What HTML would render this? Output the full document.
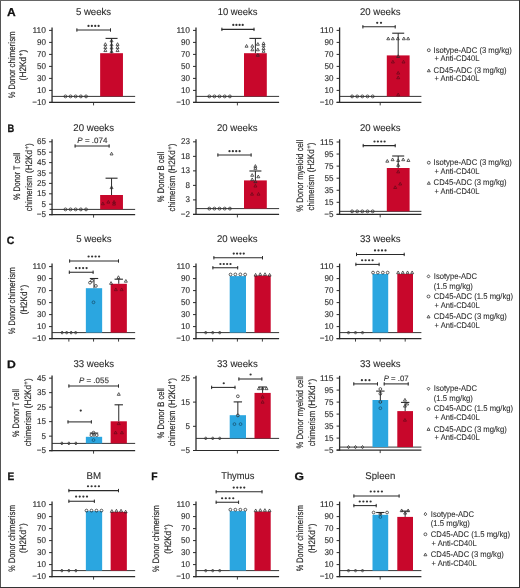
<!DOCTYPE html>
<html><head><meta charset="utf-8"><style>
html,body{margin:0;padding:0;background:#fff;width:520px;height:588px;overflow:hidden}
svg{display:block;font-family:"Liberation Sans",sans-serif;will-change:transform}
</style></head><body>
<svg width="520" height="588" viewBox="0 0 520 588" font-family="Liberation Sans, sans-serif" text-rendering="geometricPrecision">
<rect width="520" height="588" fill="#fff"/>
<text transform="translate(6.90 16.45) scale(1.04 1)" font-size="11.6" font-weight="bold" fill="#111" stroke="#111" stroke-width="0.25">A</text>
<text transform="translate(7.47 131.80) scale(0.86 1)" font-size="10.9" font-weight="bold" fill="#111" stroke="#111" stroke-width="0.25">B</text>
<text transform="translate(6.77 243.70) scale(0.97 1)" font-size="10.9" font-weight="bold" fill="#111" stroke="#111" stroke-width="0.25">C</text>
<text transform="translate(6.98 367.70) scale(1.12 1)" font-size="10.9" font-weight="bold" fill="#111" stroke="#111" stroke-width="0.25">D</text>
<text transform="translate(7.42 479.70) scale(0.93 1)" font-size="10.9" font-weight="bold" fill="#111" stroke="#111" stroke-width="0.25">E</text>
<text transform="translate(151.21 479.70) scale(0.95 1)" font-size="10.9" font-weight="bold" fill="#111" stroke="#111" stroke-width="0.25">F</text>
<text transform="translate(294.60 479.90) scale(1.11 1)" font-size="10.9" font-weight="bold" fill="#111" stroke="#111" stroke-width="0.25">G</text>
<line x1="52.05" y1="27.40" x2="52.05" y2="103.00" stroke="#2a2a2a" stroke-width="1.3"/>
<line x1="49.05" y1="30.40" x2="52.05" y2="30.40" stroke="#2a2a2a" stroke-width="1.0"/>
<text x="45.95" y="33.00" font-size="8.4" text-anchor="end" textLength="13.45" lengthAdjust="spacingAndGlyphs" fill="#2a2a2a" stroke="#2a2a2a" stroke-width="0.12">110</text>
<line x1="49.05" y1="42.40" x2="52.05" y2="42.40" stroke="#2a2a2a" stroke-width="1.0"/>
<text x="45.95" y="45.00" font-size="8.4" text-anchor="end" textLength="8.97" lengthAdjust="spacingAndGlyphs" fill="#2a2a2a" stroke="#2a2a2a" stroke-width="0.12">90</text>
<line x1="49.05" y1="54.40" x2="52.05" y2="54.40" stroke="#2a2a2a" stroke-width="1.0"/>
<text x="45.95" y="57.00" font-size="8.4" text-anchor="end" textLength="8.97" lengthAdjust="spacingAndGlyphs" fill="#2a2a2a" stroke="#2a2a2a" stroke-width="0.12">70</text>
<line x1="49.05" y1="66.40" x2="52.05" y2="66.40" stroke="#2a2a2a" stroke-width="1.0"/>
<text x="45.95" y="69.00" font-size="8.4" text-anchor="end" textLength="8.97" lengthAdjust="spacingAndGlyphs" fill="#2a2a2a" stroke="#2a2a2a" stroke-width="0.12">50</text>
<line x1="49.05" y1="78.40" x2="52.05" y2="78.40" stroke="#2a2a2a" stroke-width="1.0"/>
<text x="45.95" y="81.00" font-size="8.4" text-anchor="end" textLength="8.97" lengthAdjust="spacingAndGlyphs" fill="#2a2a2a" stroke="#2a2a2a" stroke-width="0.12">30</text>
<line x1="49.05" y1="90.40" x2="52.05" y2="90.40" stroke="#2a2a2a" stroke-width="1.0"/>
<text x="45.95" y="93.00" font-size="8.4" text-anchor="end" textLength="8.97" lengthAdjust="spacingAndGlyphs" fill="#2a2a2a" stroke="#2a2a2a" stroke-width="0.12">10</text>
<line x1="49.05" y1="102.40" x2="52.05" y2="102.40" stroke="#2a2a2a" stroke-width="1.0"/>
<text x="45.95" y="105.00" font-size="8.4" text-anchor="end" textLength="13.68" lengthAdjust="spacingAndGlyphs" fill="#2a2a2a" stroke="#2a2a2a" stroke-width="0.12">&#8722;10</text>
<line x1="49.05" y1="102.40" x2="135.15" y2="102.40" stroke="#2a2a2a" stroke-width="1.2"/>
<line x1="93.55" y1="102.40" x2="93.55" y2="105.40" stroke="#2a2a2a" stroke-width="0.9"/>
<line x1="52.05" y1="96.40" x2="135.15" y2="96.40" stroke="#2a2a2a" stroke-width="0.95"/>
<circle cx="65.45" cy="96.40" r="1.45" fill="none" stroke="#2a2a2a" stroke-width="0.75"/>
<circle cx="70.55" cy="96.40" r="1.45" fill="none" stroke="#2a2a2a" stroke-width="0.75"/>
<circle cx="75.65" cy="96.40" r="1.45" fill="none" stroke="#2a2a2a" stroke-width="0.75"/>
<circle cx="80.85" cy="96.40" r="1.45" fill="none" stroke="#2a2a2a" stroke-width="0.75"/>
<circle cx="86.05" cy="96.40" r="1.45" fill="none" stroke="#2a2a2a" stroke-width="0.75"/>
<rect x="100.15" y="53.20" width="22.80" height="43.20" fill="#c8072b"/>
<line x1="111.55" y1="38.40" x2="111.55" y2="53.20" stroke="#2a2a2a" stroke-width="1.0"/>
<line x1="105.55" y1="38.40" x2="117.55" y2="38.40" stroke="#2a2a2a" stroke-width="1.1"/>
<path d="M105.35 42.70L106.85 45.40L103.85 45.40Z" fill="none" stroke="#2a2a2a" stroke-width="0.75"/>
<path d="M105.35 45.76L106.85 48.46L103.85 48.46Z" fill="none" stroke="#2a2a2a" stroke-width="0.75"/>
<path d="M105.35 48.88L106.85 51.58L103.85 51.58Z" fill="none" stroke="#2a2a2a" stroke-width="0.75"/>
<path d="M111.55 39.16L113.05 41.86L110.05 41.86Z" fill="none" stroke="#2a2a2a" stroke-width="0.75"/>
<path d="M111.55 43.18L113.05 45.88L110.05 45.88Z" fill="none" stroke="#2a2a2a" stroke-width="0.75"/>
<path d="M111.55 46.36L113.05 49.06L110.05 49.06Z" fill="none" stroke="#2a2a2a" stroke-width="0.75"/>
<path d="M111.55 49.90L113.05 52.60L110.05 52.60Z" fill="none" stroke="#2a2a2a" stroke-width="0.75"/>
<path d="M117.55 42.70L119.05 45.40L116.05 45.40Z" fill="none" stroke="#2a2a2a" stroke-width="0.75"/>
<path d="M117.55 45.76L119.05 48.46L116.05 48.46Z" fill="none" stroke="#2a2a2a" stroke-width="0.75"/>
<path d="M117.55 48.88L119.05 51.58L116.05 51.58Z" fill="none" stroke="#2a2a2a" stroke-width="0.75"/>
<line x1="76.50" y1="30.00" x2="110.90" y2="30.00" stroke="#2a2a2a" stroke-width="1.05"/>
<line x1="76.90" y1="28.30" x2="76.90" y2="31.70" stroke="#2a2a2a" stroke-width="1.0"/>
<line x1="110.50" y1="28.30" x2="110.50" y2="31.70" stroke="#2a2a2a" stroke-width="1.0"/>
<circle cx="88.50" cy="25.90" r="1.12" fill="#333"/>
<circle cx="91.87" cy="25.90" r="1.12" fill="#333"/>
<circle cx="95.23" cy="25.90" r="1.12" fill="#333"/>
<circle cx="98.60" cy="25.90" r="1.12" fill="#333"/>
<text x="93.55" y="14.80" font-size="9.8" text-anchor="middle" textLength="35.30" lengthAdjust="spacingAndGlyphs" fill="#2a2a2a" stroke="#2a2a2a" stroke-width="0.1">5 weeks</text>
<line x1="196.00" y1="27.40" x2="196.00" y2="103.00" stroke="#2a2a2a" stroke-width="1.3"/>
<line x1="193.00" y1="30.40" x2="196.00" y2="30.40" stroke="#2a2a2a" stroke-width="1.0"/>
<text x="189.90" y="33.00" font-size="8.4" text-anchor="end" textLength="13.45" lengthAdjust="spacingAndGlyphs" fill="#2a2a2a" stroke="#2a2a2a" stroke-width="0.12">110</text>
<line x1="193.00" y1="42.40" x2="196.00" y2="42.40" stroke="#2a2a2a" stroke-width="1.0"/>
<text x="189.90" y="45.00" font-size="8.4" text-anchor="end" textLength="8.97" lengthAdjust="spacingAndGlyphs" fill="#2a2a2a" stroke="#2a2a2a" stroke-width="0.12">90</text>
<line x1="193.00" y1="54.40" x2="196.00" y2="54.40" stroke="#2a2a2a" stroke-width="1.0"/>
<text x="189.90" y="57.00" font-size="8.4" text-anchor="end" textLength="8.97" lengthAdjust="spacingAndGlyphs" fill="#2a2a2a" stroke="#2a2a2a" stroke-width="0.12">70</text>
<line x1="193.00" y1="66.40" x2="196.00" y2="66.40" stroke="#2a2a2a" stroke-width="1.0"/>
<text x="189.90" y="69.00" font-size="8.4" text-anchor="end" textLength="8.97" lengthAdjust="spacingAndGlyphs" fill="#2a2a2a" stroke="#2a2a2a" stroke-width="0.12">50</text>
<line x1="193.00" y1="78.40" x2="196.00" y2="78.40" stroke="#2a2a2a" stroke-width="1.0"/>
<text x="189.90" y="81.00" font-size="8.4" text-anchor="end" textLength="8.97" lengthAdjust="spacingAndGlyphs" fill="#2a2a2a" stroke="#2a2a2a" stroke-width="0.12">30</text>
<line x1="193.00" y1="90.40" x2="196.00" y2="90.40" stroke="#2a2a2a" stroke-width="1.0"/>
<text x="189.90" y="93.00" font-size="8.4" text-anchor="end" textLength="8.97" lengthAdjust="spacingAndGlyphs" fill="#2a2a2a" stroke="#2a2a2a" stroke-width="0.12">10</text>
<line x1="193.00" y1="102.40" x2="196.00" y2="102.40" stroke="#2a2a2a" stroke-width="1.0"/>
<text x="189.90" y="105.00" font-size="8.4" text-anchor="end" textLength="13.68" lengthAdjust="spacingAndGlyphs" fill="#2a2a2a" stroke="#2a2a2a" stroke-width="0.12">&#8722;10</text>
<line x1="193.00" y1="102.40" x2="279.10" y2="102.40" stroke="#2a2a2a" stroke-width="1.2"/>
<line x1="237.40" y1="102.40" x2="237.40" y2="105.40" stroke="#2a2a2a" stroke-width="0.9"/>
<line x1="196.00" y1="96.40" x2="279.10" y2="96.40" stroke="#2a2a2a" stroke-width="0.95"/>
<circle cx="209.30" cy="96.40" r="1.45" fill="none" stroke="#2a2a2a" stroke-width="0.75"/>
<circle cx="214.40" cy="96.40" r="1.45" fill="none" stroke="#2a2a2a" stroke-width="0.75"/>
<circle cx="219.50" cy="96.40" r="1.45" fill="none" stroke="#2a2a2a" stroke-width="0.75"/>
<circle cx="224.70" cy="96.40" r="1.45" fill="none" stroke="#2a2a2a" stroke-width="0.75"/>
<circle cx="229.90" cy="96.40" r="1.45" fill="none" stroke="#2a2a2a" stroke-width="0.75"/>
<rect x="244.00" y="53.20" width="22.80" height="43.20" fill="#c8072b"/>
<line x1="255.40" y1="38.40" x2="255.40" y2="53.20" stroke="#2a2a2a" stroke-width="1.0"/>
<line x1="249.40" y1="38.40" x2="261.40" y2="38.40" stroke="#2a2a2a" stroke-width="1.1"/>
<path d="M246.55 44.50L248.05 47.20L245.05 47.20Z" fill="none" stroke="#2a2a2a" stroke-width="0.75"/>
<path d="M252.35 44.50L253.85 47.20L250.85 47.20Z" fill="none" stroke="#2a2a2a" stroke-width="0.75"/>
<path d="M252.35 48.10L253.85 50.80L250.85 50.80Z" fill="none" stroke="#2a2a2a" stroke-width="0.75"/>
<path d="M257.85 42.58L259.35 45.28L256.35 45.28Z" fill="none" stroke="#2a2a2a" stroke-width="0.75"/>
<path d="M257.85 48.10L259.35 50.80L256.35 50.80Z" fill="none" stroke="#2a2a2a" stroke-width="0.75"/>
<path d="M263.55 41.86L265.05 44.56L262.05 44.56Z" fill="none" stroke="#2a2a2a" stroke-width="0.75"/>
<path d="M263.55 44.08L265.05 46.78L262.05 46.78Z" fill="none" stroke="#2a2a2a" stroke-width="0.75"/>
<path d="M263.55 46.96L265.05 49.66L262.05 49.66Z" fill="none" stroke="#2a2a2a" stroke-width="0.75"/>
<path d="M263.55 49.60L265.05 52.30L262.05 52.30Z" fill="none" stroke="#2a2a2a" stroke-width="0.75"/>
<path d="M257.85 53.56L259.35 56.26L256.35 56.26Z" fill="none" stroke="#2a2a2a" stroke-width="0.75"/>
<line x1="221.50" y1="29.35" x2="254.40" y2="29.35" stroke="#2a2a2a" stroke-width="1.05"/>
<line x1="221.90" y1="27.65" x2="221.90" y2="31.05" stroke="#2a2a2a" stroke-width="1.0"/>
<line x1="254.00" y1="27.65" x2="254.00" y2="31.05" stroke="#2a2a2a" stroke-width="1.0"/>
<circle cx="233.30" cy="24.90" r="1.12" fill="#333"/>
<circle cx="236.43" cy="24.90" r="1.12" fill="#333"/>
<circle cx="239.57" cy="24.90" r="1.12" fill="#333"/>
<circle cx="242.70" cy="24.90" r="1.12" fill="#333"/>
<text x="237.60" y="14.80" font-size="9.8" text-anchor="middle" textLength="39.80" lengthAdjust="spacingAndGlyphs" fill="#2a2a2a" stroke="#2a2a2a" stroke-width="0.1">10 weeks</text>
<line x1="339.60" y1="27.40" x2="339.60" y2="103.00" stroke="#2a2a2a" stroke-width="1.3"/>
<line x1="336.60" y1="30.40" x2="339.60" y2="30.40" stroke="#2a2a2a" stroke-width="1.0"/>
<text x="333.50" y="33.00" font-size="8.4" text-anchor="end" textLength="13.45" lengthAdjust="spacingAndGlyphs" fill="#2a2a2a" stroke="#2a2a2a" stroke-width="0.12">110</text>
<line x1="336.60" y1="42.40" x2="339.60" y2="42.40" stroke="#2a2a2a" stroke-width="1.0"/>
<text x="333.50" y="45.00" font-size="8.4" text-anchor="end" textLength="8.97" lengthAdjust="spacingAndGlyphs" fill="#2a2a2a" stroke="#2a2a2a" stroke-width="0.12">90</text>
<line x1="336.60" y1="54.40" x2="339.60" y2="54.40" stroke="#2a2a2a" stroke-width="1.0"/>
<text x="333.50" y="57.00" font-size="8.4" text-anchor="end" textLength="8.97" lengthAdjust="spacingAndGlyphs" fill="#2a2a2a" stroke="#2a2a2a" stroke-width="0.12">70</text>
<line x1="336.60" y1="66.40" x2="339.60" y2="66.40" stroke="#2a2a2a" stroke-width="1.0"/>
<text x="333.50" y="69.00" font-size="8.4" text-anchor="end" textLength="8.97" lengthAdjust="spacingAndGlyphs" fill="#2a2a2a" stroke="#2a2a2a" stroke-width="0.12">50</text>
<line x1="336.60" y1="78.40" x2="339.60" y2="78.40" stroke="#2a2a2a" stroke-width="1.0"/>
<text x="333.50" y="81.00" font-size="8.4" text-anchor="end" textLength="8.97" lengthAdjust="spacingAndGlyphs" fill="#2a2a2a" stroke="#2a2a2a" stroke-width="0.12">30</text>
<line x1="336.60" y1="90.40" x2="339.60" y2="90.40" stroke="#2a2a2a" stroke-width="1.0"/>
<text x="333.50" y="93.00" font-size="8.4" text-anchor="end" textLength="8.97" lengthAdjust="spacingAndGlyphs" fill="#2a2a2a" stroke="#2a2a2a" stroke-width="0.12">10</text>
<line x1="336.60" y1="102.40" x2="339.60" y2="102.40" stroke="#2a2a2a" stroke-width="1.0"/>
<text x="333.50" y="105.00" font-size="8.4" text-anchor="end" textLength="13.68" lengthAdjust="spacingAndGlyphs" fill="#2a2a2a" stroke="#2a2a2a" stroke-width="0.12">&#8722;10</text>
<line x1="336.60" y1="102.40" x2="421.40" y2="102.40" stroke="#2a2a2a" stroke-width="1.2"/>
<line x1="380.20" y1="102.40" x2="380.20" y2="105.40" stroke="#2a2a2a" stroke-width="0.9"/>
<line x1="339.60" y1="96.40" x2="421.40" y2="96.40" stroke="#2a2a2a" stroke-width="0.95"/>
<circle cx="352.10" cy="96.40" r="1.45" fill="none" stroke="#2a2a2a" stroke-width="0.75"/>
<circle cx="357.20" cy="96.40" r="1.45" fill="none" stroke="#2a2a2a" stroke-width="0.75"/>
<circle cx="362.30" cy="96.40" r="1.45" fill="none" stroke="#2a2a2a" stroke-width="0.75"/>
<circle cx="367.50" cy="96.40" r="1.45" fill="none" stroke="#2a2a2a" stroke-width="0.75"/>
<circle cx="372.70" cy="96.40" r="1.45" fill="none" stroke="#2a2a2a" stroke-width="0.75"/>
<rect x="386.80" y="55.40" width="22.80" height="41.00" fill="#c8072b"/>
<line x1="398.20" y1="33.20" x2="398.20" y2="55.40" stroke="#2a2a2a" stroke-width="1.0"/>
<line x1="392.20" y1="33.20" x2="404.20" y2="33.20" stroke="#2a2a2a" stroke-width="1.1"/>
<path d="M388.25 37.06L389.75 39.76L386.75 39.76Z" fill="none" stroke="#2a2a2a" stroke-width="0.75"/>
<path d="M392.85 37.06L394.35 39.76L391.35 39.76Z" fill="none" stroke="#2a2a2a" stroke-width="0.75"/>
<path d="M397.85 37.06L399.35 39.76L396.35 39.76Z" fill="none" stroke="#2a2a2a" stroke-width="0.75"/>
<path d="M403.85 37.06L405.35 39.76L402.35 39.76Z" fill="none" stroke="#2a2a2a" stroke-width="0.75"/>
<path d="M408.15 37.06L409.65 39.76L406.65 39.76Z" fill="none" stroke="#2a2a2a" stroke-width="0.75"/>
<path d="M398.20 54.76L399.70 57.46L396.70 57.46Z" fill="none" stroke="#2a2a2a" stroke-width="0.75"/>
<path d="M392.90 60.28L394.40 62.98L391.40 62.98Z" fill="none" stroke="#6a0a1a" stroke-width="0.75"/>
<path d="M403.50 60.28L405.00 62.98L402.00 62.98Z" fill="none" stroke="#6a0a1a" stroke-width="0.75"/>
<path d="M398.20 71.38L399.70 74.08L396.70 74.08Z" fill="none" stroke="#6a0a1a" stroke-width="0.75"/>
<path d="M398.20 76.06L399.70 78.76L396.70 78.76Z" fill="none" stroke="#6a0a1a" stroke-width="0.75"/>
<path d="M398.20 93.10L399.70 95.80L396.70 95.80Z" fill="none" stroke="#6a0a1a" stroke-width="0.75"/>
<line x1="362.50" y1="26.80" x2="395.60" y2="26.80" stroke="#2a2a2a" stroke-width="1.05"/>
<line x1="362.90" y1="25.10" x2="362.90" y2="28.50" stroke="#2a2a2a" stroke-width="1.0"/>
<line x1="395.20" y1="25.10" x2="395.20" y2="28.50" stroke="#2a2a2a" stroke-width="1.0"/>
<circle cx="377.20" cy="22.80" r="1.12" fill="#333"/>
<circle cx="381.00" cy="22.80" r="1.12" fill="#333"/>
<text x="380.25" y="14.80" font-size="9.8" text-anchor="middle" textLength="40.50" lengthAdjust="spacingAndGlyphs" fill="#2a2a2a" stroke="#2a2a2a" stroke-width="0.1">20 weeks</text>
<text x="15.10" y="49.39" font-size="9.4" text-anchor="middle" textLength="36.28" lengthAdjust="spacingAndGlyphs" transform="rotate(-90 15.10 49.39)" fill="#2a2a2a" stroke="#2a2a2a" stroke-width="0.17">chimerism</text>
<text x="15.10" y="83.84" font-size="9.4" text-anchor="middle" textLength="28.83" lengthAdjust="spacingAndGlyphs" transform="rotate(-90 15.10 83.84)" fill="#2a2a2a" stroke="#2a2a2a" stroke-width="0.17">% Donor</text>
<text x="26.10" y="65.10" font-size="9.4" text-anchor="middle" textLength="30.60" lengthAdjust="spacingAndGlyphs" transform="rotate(-90 26.10 65.10)" fill="#2a2a2a" stroke="#2a2a2a" stroke-width="0.17">(H2Kd<tspan font-size="6.6" dx="0.5" dy="-3.0">+</tspan><tspan dx="0.3" dy="3.0">)</tspan></text>
<line x1="52.05" y1="139.20" x2="52.05" y2="215.20" stroke="#2a2a2a" stroke-width="1.3"/>
<line x1="49.05" y1="141.80" x2="52.05" y2="141.80" stroke="#2a2a2a" stroke-width="1.0"/>
<text x="45.95" y="144.40" font-size="8.4" text-anchor="end" textLength="8.97" lengthAdjust="spacingAndGlyphs" fill="#2a2a2a" stroke="#2a2a2a" stroke-width="0.12">65</text>
<line x1="49.05" y1="152.20" x2="52.05" y2="152.20" stroke="#2a2a2a" stroke-width="1.0"/>
<text x="45.95" y="154.80" font-size="8.4" text-anchor="end" textLength="8.97" lengthAdjust="spacingAndGlyphs" fill="#2a2a2a" stroke="#2a2a2a" stroke-width="0.12">55</text>
<line x1="49.05" y1="162.60" x2="52.05" y2="162.60" stroke="#2a2a2a" stroke-width="1.0"/>
<text x="45.95" y="165.20" font-size="8.4" text-anchor="end" textLength="8.97" lengthAdjust="spacingAndGlyphs" fill="#2a2a2a" stroke="#2a2a2a" stroke-width="0.12">45</text>
<line x1="49.05" y1="173.00" x2="52.05" y2="173.00" stroke="#2a2a2a" stroke-width="1.0"/>
<text x="45.95" y="175.60" font-size="8.4" text-anchor="end" textLength="8.97" lengthAdjust="spacingAndGlyphs" fill="#2a2a2a" stroke="#2a2a2a" stroke-width="0.12">35</text>
<line x1="49.05" y1="183.40" x2="52.05" y2="183.40" stroke="#2a2a2a" stroke-width="1.0"/>
<text x="45.95" y="186.00" font-size="8.4" text-anchor="end" textLength="8.97" lengthAdjust="spacingAndGlyphs" fill="#2a2a2a" stroke="#2a2a2a" stroke-width="0.12">25</text>
<line x1="49.05" y1="193.80" x2="52.05" y2="193.80" stroke="#2a2a2a" stroke-width="1.0"/>
<text x="45.95" y="196.40" font-size="8.4" text-anchor="end" textLength="8.97" lengthAdjust="spacingAndGlyphs" fill="#2a2a2a" stroke="#2a2a2a" stroke-width="0.12">15</text>
<line x1="49.05" y1="204.20" x2="52.05" y2="204.20" stroke="#2a2a2a" stroke-width="1.0"/>
<text x="45.95" y="206.80" font-size="8.4" text-anchor="end" textLength="4.48" lengthAdjust="spacingAndGlyphs" fill="#2a2a2a" stroke="#2a2a2a" stroke-width="0.12">5</text>
<line x1="49.05" y1="214.60" x2="52.05" y2="214.60" stroke="#2a2a2a" stroke-width="1.0"/>
<text x="45.95" y="217.20" font-size="8.4" text-anchor="end" textLength="9.19" lengthAdjust="spacingAndGlyphs" fill="#2a2a2a" stroke="#2a2a2a" stroke-width="0.12">&#8722;5</text>
<line x1="49.05" y1="214.60" x2="135.15" y2="214.60" stroke="#2a2a2a" stroke-width="1.2"/>
<line x1="93.55" y1="214.60" x2="93.55" y2="217.60" stroke="#2a2a2a" stroke-width="0.9"/>
<line x1="49.55" y1="209.40" x2="135.15" y2="209.40" stroke="#2a2a2a" stroke-width="0.95"/>
<circle cx="65.45" cy="209.40" r="1.45" fill="none" stroke="#2a2a2a" stroke-width="0.75"/>
<circle cx="70.55" cy="209.40" r="1.45" fill="none" stroke="#2a2a2a" stroke-width="0.75"/>
<circle cx="75.65" cy="209.40" r="1.45" fill="none" stroke="#2a2a2a" stroke-width="0.75"/>
<circle cx="80.85" cy="209.40" r="1.45" fill="none" stroke="#2a2a2a" stroke-width="0.75"/>
<circle cx="86.05" cy="209.40" r="1.45" fill="none" stroke="#2a2a2a" stroke-width="0.75"/>
<rect x="100.15" y="195.00" width="22.80" height="14.40" fill="#c8072b"/>
<line x1="111.55" y1="178.20" x2="111.55" y2="195.00" stroke="#2a2a2a" stroke-width="1.0"/>
<line x1="105.55" y1="178.20" x2="117.55" y2="178.20" stroke="#2a2a2a" stroke-width="1.1"/>
<path d="M111.55 152.24L113.05 154.94L110.05 154.94Z" fill="none" stroke="#2a2a2a" stroke-width="0.75"/>
<path d="M111.55 185.94L113.05 188.64L110.05 188.64Z" fill="none" stroke="#2a2a2a" stroke-width="0.75"/>
<path d="M102.85 202.06L104.35 204.76L101.35 204.76Z" fill="none" stroke="#6a0a1a" stroke-width="0.75"/>
<path d="M108.35 200.40L109.85 203.10L106.85 203.10Z" fill="none" stroke="#6a0a1a" stroke-width="0.75"/>
<path d="M114.05 200.40L115.55 203.10L112.55 203.10Z" fill="none" stroke="#6a0a1a" stroke-width="0.75"/>
<path d="M114.05 202.37L115.55 205.07L112.55 205.07Z" fill="none" stroke="#6a0a1a" stroke-width="0.75"/>
<line x1="74.70" y1="146.00" x2="109.50" y2="146.00" stroke="#2a2a2a" stroke-width="1.05"/>
<line x1="75.10" y1="144.30" x2="75.10" y2="147.70" stroke="#2a2a2a" stroke-width="1.0"/>
<line x1="109.10" y1="144.30" x2="109.10" y2="147.70" stroke="#2a2a2a" stroke-width="1.0"/>
<text x="92.35" y="142.60" font-size="7.8" text-anchor="middle" textLength="30.00" lengthAdjust="spacingAndGlyphs" fill="#333" stroke="#333" stroke-width="0.12"><tspan font-style="italic">P</tspan> = .074</text>
<text x="93.65" y="130.60" font-size="9.8" text-anchor="middle" textLength="40.70" lengthAdjust="spacingAndGlyphs" fill="#2a2a2a" stroke="#2a2a2a" stroke-width="0.1">20 weeks</text>
<text x="19.90" y="176.40" font-size="9.4" text-anchor="middle" textLength="47.40" lengthAdjust="spacingAndGlyphs" transform="rotate(-90 19.90 176.40)" fill="#2a2a2a" stroke="#2a2a2a" stroke-width="0.17">% Donor T cell</text>
<text x="31.80" y="193.33" font-size="9.4" text-anchor="middle" textLength="35.73" lengthAdjust="spacingAndGlyphs" transform="rotate(-90 31.80 193.33)" fill="#2a2a2a" stroke="#2a2a2a" stroke-width="0.17">chimerism</text>
<text x="31.80" y="158.13" font-size="9.4" text-anchor="middle" textLength="29.86" lengthAdjust="spacingAndGlyphs" transform="rotate(-90 31.80 158.13)" fill="#2a2a2a" stroke="#2a2a2a" stroke-width="0.17">(H2Kd<tspan font-size="6.6" dx="0.5" dy="-3.0">+</tspan><tspan dx="0.3" dy="3.0">)</tspan></text>
<line x1="196.00" y1="139.30" x2="196.00" y2="215.00" stroke="#2a2a2a" stroke-width="1.3"/>
<line x1="193.00" y1="141.84" x2="196.00" y2="141.84" stroke="#2a2a2a" stroke-width="1.0"/>
<text x="189.90" y="144.44" font-size="8.4" text-anchor="end" textLength="8.97" lengthAdjust="spacingAndGlyphs" fill="#2a2a2a" stroke="#2a2a2a" stroke-width="0.12">23</text>
<line x1="193.00" y1="156.35" x2="196.00" y2="156.35" stroke="#2a2a2a" stroke-width="1.0"/>
<text x="189.90" y="158.95" font-size="8.4" text-anchor="end" textLength="8.97" lengthAdjust="spacingAndGlyphs" fill="#2a2a2a" stroke="#2a2a2a" stroke-width="0.12">18</text>
<line x1="193.00" y1="170.87" x2="196.00" y2="170.87" stroke="#2a2a2a" stroke-width="1.0"/>
<text x="189.90" y="173.47" font-size="8.4" text-anchor="end" textLength="8.97" lengthAdjust="spacingAndGlyphs" fill="#2a2a2a" stroke="#2a2a2a" stroke-width="0.12">13</text>
<line x1="193.00" y1="185.38" x2="196.00" y2="185.38" stroke="#2a2a2a" stroke-width="1.0"/>
<text x="189.90" y="187.98" font-size="8.4" text-anchor="end" textLength="4.48" lengthAdjust="spacingAndGlyphs" fill="#2a2a2a" stroke="#2a2a2a" stroke-width="0.12">8</text>
<line x1="193.00" y1="199.89" x2="196.00" y2="199.89" stroke="#2a2a2a" stroke-width="1.0"/>
<text x="189.90" y="202.49" font-size="8.4" text-anchor="end" textLength="4.48" lengthAdjust="spacingAndGlyphs" fill="#2a2a2a" stroke="#2a2a2a" stroke-width="0.12">3</text>
<line x1="193.00" y1="214.41" x2="196.00" y2="214.41" stroke="#2a2a2a" stroke-width="1.0"/>
<text x="189.90" y="217.00" font-size="8.4" text-anchor="end" textLength="9.19" lengthAdjust="spacingAndGlyphs" fill="#2a2a2a" stroke="#2a2a2a" stroke-width="0.12">&#8722;2</text>
<line x1="193.00" y1="214.41" x2="279.10" y2="214.41" stroke="#2a2a2a" stroke-width="1.2"/>
<line x1="237.40" y1="214.41" x2="237.40" y2="217.41" stroke="#2a2a2a" stroke-width="0.9"/>
<line x1="196.00" y1="208.60" x2="279.10" y2="208.60" stroke="#2a2a2a" stroke-width="0.95"/>
<circle cx="209.30" cy="208.60" r="1.45" fill="none" stroke="#2a2a2a" stroke-width="0.75"/>
<circle cx="214.40" cy="208.60" r="1.45" fill="none" stroke="#2a2a2a" stroke-width="0.75"/>
<circle cx="219.50" cy="208.60" r="1.45" fill="none" stroke="#2a2a2a" stroke-width="0.75"/>
<circle cx="224.70" cy="208.60" r="1.45" fill="none" stroke="#2a2a2a" stroke-width="0.75"/>
<circle cx="229.90" cy="208.60" r="1.45" fill="none" stroke="#2a2a2a" stroke-width="0.75"/>
<rect x="244.00" y="180.40" width="22.80" height="28.20" fill="#c8072b"/>
<line x1="255.40" y1="171.00" x2="255.40" y2="180.40" stroke="#2a2a2a" stroke-width="1.0"/>
<line x1="249.40" y1="171.00" x2="261.40" y2="171.00" stroke="#2a2a2a" stroke-width="1.1"/>
<path d="M255.40 164.60L256.90 167.30L253.90 167.30Z" fill="none" stroke="#2a2a2a" stroke-width="0.75"/>
<path d="M255.40 166.64L256.90 169.34L253.90 169.34Z" fill="none" stroke="#2a2a2a" stroke-width="0.75"/>
<path d="M252.20 173.60L253.70 176.30L250.70 176.30Z" fill="none" stroke="#2a2a2a" stroke-width="0.75"/>
<path d="M258.30 175.05L259.80 177.75L256.80 177.75Z" fill="none" stroke="#2a2a2a" stroke-width="0.75"/>
<path d="M252.20 177.95L253.70 180.66L250.70 180.66Z" fill="none" stroke="#2a2a2a" stroke-width="0.75"/>
<path d="M255.40 179.99L256.90 182.69L253.90 182.69Z" fill="none" stroke="#2a2a2a" stroke-width="0.75"/>
<path d="M255.40 184.34L256.90 187.04L253.90 187.04Z" fill="none" stroke="#6a0a1a" stroke-width="0.75"/>
<path d="M252.00 192.47L253.50 195.17L250.50 195.17Z" fill="none" stroke="#6a0a1a" stroke-width="0.75"/>
<path d="M258.50 192.47L260.00 195.17L257.00 195.17Z" fill="none" stroke="#6a0a1a" stroke-width="0.75"/>
<line x1="217.50" y1="155.00" x2="251.50" y2="155.00" stroke="#2a2a2a" stroke-width="1.05"/>
<line x1="217.90" y1="153.30" x2="217.90" y2="156.70" stroke="#2a2a2a" stroke-width="1.0"/>
<line x1="251.10" y1="153.30" x2="251.10" y2="156.70" stroke="#2a2a2a" stroke-width="1.0"/>
<circle cx="229.50" cy="151.20" r="1.12" fill="#333"/>
<circle cx="232.87" cy="151.20" r="1.12" fill="#333"/>
<circle cx="236.23" cy="151.20" r="1.12" fill="#333"/>
<circle cx="239.60" cy="151.20" r="1.12" fill="#333"/>
<text x="237.25" y="130.60" font-size="9.8" text-anchor="middle" textLength="40.50" lengthAdjust="spacingAndGlyphs" fill="#2a2a2a" stroke="#2a2a2a" stroke-width="0.1">20 weeks</text>
<text x="163.50" y="177.00" font-size="9.4" text-anchor="middle" textLength="50.40" lengthAdjust="spacingAndGlyphs" transform="rotate(-90 163.50 177.00)" fill="#2a2a2a" stroke="#2a2a2a" stroke-width="0.17">% Donor B cell</text>
<text x="174.70" y="193.63" font-size="9.4" text-anchor="middle" textLength="35.73" lengthAdjust="spacingAndGlyphs" transform="rotate(-90 174.70 193.63)" fill="#2a2a2a" stroke="#2a2a2a" stroke-width="0.17">chimerism</text>
<text x="174.70" y="158.43" font-size="9.4" text-anchor="middle" textLength="29.86" lengthAdjust="spacingAndGlyphs" transform="rotate(-90 174.70 158.43)" fill="#2a2a2a" stroke="#2a2a2a" stroke-width="0.17">(H2Kd<tspan font-size="6.6" dx="0.5" dy="-3.0">+</tspan><tspan dx="0.3" dy="3.0">)</tspan></text>
<line x1="339.60" y1="139.30" x2="339.60" y2="214.96" stroke="#2a2a2a" stroke-width="1.3"/>
<line x1="336.60" y1="142.00" x2="339.60" y2="142.00" stroke="#2a2a2a" stroke-width="1.0"/>
<text x="333.50" y="144.60" font-size="8.4" text-anchor="end" textLength="13.45" lengthAdjust="spacingAndGlyphs" fill="#2a2a2a" stroke="#2a2a2a" stroke-width="0.12">115</text>
<line x1="336.60" y1="154.06" x2="339.60" y2="154.06" stroke="#2a2a2a" stroke-width="1.0"/>
<text x="333.50" y="156.66" font-size="8.4" text-anchor="end" textLength="8.97" lengthAdjust="spacingAndGlyphs" fill="#2a2a2a" stroke="#2a2a2a" stroke-width="0.12">95</text>
<line x1="336.60" y1="166.12" x2="339.60" y2="166.12" stroke="#2a2a2a" stroke-width="1.0"/>
<text x="333.50" y="168.72" font-size="8.4" text-anchor="end" textLength="8.97" lengthAdjust="spacingAndGlyphs" fill="#2a2a2a" stroke="#2a2a2a" stroke-width="0.12">75</text>
<line x1="336.60" y1="178.19" x2="339.60" y2="178.19" stroke="#2a2a2a" stroke-width="1.0"/>
<text x="333.50" y="180.78" font-size="8.4" text-anchor="end" textLength="8.97" lengthAdjust="spacingAndGlyphs" fill="#2a2a2a" stroke="#2a2a2a" stroke-width="0.12">55</text>
<line x1="336.60" y1="190.25" x2="339.60" y2="190.25" stroke="#2a2a2a" stroke-width="1.0"/>
<text x="333.50" y="192.84" font-size="8.4" text-anchor="end" textLength="8.97" lengthAdjust="spacingAndGlyphs" fill="#2a2a2a" stroke="#2a2a2a" stroke-width="0.12">35</text>
<line x1="336.60" y1="202.31" x2="339.60" y2="202.31" stroke="#2a2a2a" stroke-width="1.0"/>
<text x="333.50" y="204.91" font-size="8.4" text-anchor="end" textLength="8.97" lengthAdjust="spacingAndGlyphs" fill="#2a2a2a" stroke="#2a2a2a" stroke-width="0.12">15</text>
<line x1="336.60" y1="214.36" x2="339.60" y2="214.36" stroke="#2a2a2a" stroke-width="1.0"/>
<text x="333.50" y="216.96" font-size="8.4" text-anchor="end" textLength="9.19" lengthAdjust="spacingAndGlyphs" fill="#2a2a2a" stroke="#2a2a2a" stroke-width="0.12">&#8722;5</text>
<line x1="336.60" y1="214.36" x2="421.40" y2="214.36" stroke="#2a2a2a" stroke-width="1.2"/>
<line x1="380.20" y1="214.36" x2="380.20" y2="217.36" stroke="#2a2a2a" stroke-width="0.9"/>
<line x1="339.60" y1="211.35" x2="421.40" y2="211.35" stroke="#2a2a2a" stroke-width="0.95"/>
<circle cx="352.10" cy="211.35" r="1.45" fill="none" stroke="#2a2a2a" stroke-width="0.75"/>
<circle cx="357.20" cy="211.35" r="1.45" fill="none" stroke="#2a2a2a" stroke-width="0.75"/>
<circle cx="362.30" cy="211.35" r="1.45" fill="none" stroke="#2a2a2a" stroke-width="0.75"/>
<circle cx="367.50" cy="211.35" r="1.45" fill="none" stroke="#2a2a2a" stroke-width="0.75"/>
<circle cx="372.70" cy="211.35" r="1.45" fill="none" stroke="#2a2a2a" stroke-width="0.75"/>
<rect x="386.80" y="168.00" width="22.80" height="43.35" fill="#c8072b"/>
<line x1="398.20" y1="156.00" x2="398.20" y2="168.00" stroke="#2a2a2a" stroke-width="1.0"/>
<line x1="392.20" y1="156.00" x2="404.20" y2="156.00" stroke="#2a2a2a" stroke-width="1.1"/>
<path d="M387.30 159.50L388.80 162.20L385.80 162.20Z" fill="none" stroke="#2a2a2a" stroke-width="0.75"/>
<path d="M392.60 157.99L394.10 160.69L391.10 160.69Z" fill="none" stroke="#2a2a2a" stroke-width="0.75"/>
<path d="M398.20 158.78L399.70 161.48L396.70 161.48Z" fill="none" stroke="#2a2a2a" stroke-width="0.75"/>
<path d="M403.20 157.99L404.70 160.69L401.70 160.69Z" fill="none" stroke="#2a2a2a" stroke-width="0.75"/>
<path d="M408.40 158.78L409.90 161.48L406.90 161.48Z" fill="none" stroke="#2a2a2a" stroke-width="0.75"/>
<path d="M398.20 163.60L399.70 166.30L396.70 166.30Z" fill="none" stroke="#2a2a2a" stroke-width="0.75"/>
<path d="M398.20 170.17L399.70 172.87L396.70 172.87Z" fill="none" stroke="#6a0a1a" stroke-width="0.75"/>
<path d="M400.20 182.29L401.70 184.99L398.70 184.99Z" fill="none" stroke="#6a0a1a" stroke-width="0.75"/>
<path d="M395.20 185.79L396.70 188.49L393.70 188.49Z" fill="none" stroke="#6a0a1a" stroke-width="0.75"/>
<line x1="362.80" y1="145.60" x2="395.60" y2="145.60" stroke="#2a2a2a" stroke-width="1.05"/>
<line x1="363.20" y1="143.90" x2="363.20" y2="147.30" stroke="#2a2a2a" stroke-width="1.0"/>
<line x1="395.20" y1="143.90" x2="395.20" y2="147.30" stroke="#2a2a2a" stroke-width="1.0"/>
<circle cx="374.50" cy="141.50" r="1.12" fill="#333"/>
<circle cx="377.87" cy="141.50" r="1.12" fill="#333"/>
<circle cx="381.23" cy="141.50" r="1.12" fill="#333"/>
<circle cx="384.60" cy="141.50" r="1.12" fill="#333"/>
<text x="380.25" y="130.60" font-size="9.8" text-anchor="middle" textLength="40.50" lengthAdjust="spacingAndGlyphs" fill="#2a2a2a" stroke="#2a2a2a" stroke-width="0.1">20 weeks</text>
<text x="302.70" y="175.80" font-size="9.4" text-anchor="middle" textLength="71.90" lengthAdjust="spacingAndGlyphs" transform="rotate(-90 302.70 175.80)" fill="#2a2a2a" stroke="#2a2a2a" stroke-width="0.17">% Donor myeloid cell</text>
<text x="314.30" y="192.53" font-size="9.4" text-anchor="middle" textLength="35.73" lengthAdjust="spacingAndGlyphs" transform="rotate(-90 314.30 192.53)" fill="#2a2a2a" stroke="#2a2a2a" stroke-width="0.17">chimerism</text>
<text x="314.30" y="157.33" font-size="9.4" text-anchor="middle" textLength="29.86" lengthAdjust="spacingAndGlyphs" transform="rotate(-90 314.30 157.33)" fill="#2a2a2a" stroke="#2a2a2a" stroke-width="0.17">(H2Kd<tspan font-size="6.6" dx="0.5" dy="-3.0">+</tspan><tspan dx="0.3" dy="3.0">)</tspan></text>
<line x1="52.05" y1="263.60" x2="52.05" y2="339.20" stroke="#2a2a2a" stroke-width="1.3"/>
<line x1="49.05" y1="266.60" x2="52.05" y2="266.60" stroke="#2a2a2a" stroke-width="1.0"/>
<text x="45.95" y="269.20" font-size="8.4" text-anchor="end" textLength="13.45" lengthAdjust="spacingAndGlyphs" fill="#2a2a2a" stroke="#2a2a2a" stroke-width="0.12">110</text>
<line x1="49.05" y1="278.60" x2="52.05" y2="278.60" stroke="#2a2a2a" stroke-width="1.0"/>
<text x="45.95" y="281.20" font-size="8.4" text-anchor="end" textLength="8.97" lengthAdjust="spacingAndGlyphs" fill="#2a2a2a" stroke="#2a2a2a" stroke-width="0.12">90</text>
<line x1="49.05" y1="290.60" x2="52.05" y2="290.60" stroke="#2a2a2a" stroke-width="1.0"/>
<text x="45.95" y="293.20" font-size="8.4" text-anchor="end" textLength="8.97" lengthAdjust="spacingAndGlyphs" fill="#2a2a2a" stroke="#2a2a2a" stroke-width="0.12">70</text>
<line x1="49.05" y1="302.60" x2="52.05" y2="302.60" stroke="#2a2a2a" stroke-width="1.0"/>
<text x="45.95" y="305.20" font-size="8.4" text-anchor="end" textLength="8.97" lengthAdjust="spacingAndGlyphs" fill="#2a2a2a" stroke="#2a2a2a" stroke-width="0.12">50</text>
<line x1="49.05" y1="314.60" x2="52.05" y2="314.60" stroke="#2a2a2a" stroke-width="1.0"/>
<text x="45.95" y="317.20" font-size="8.4" text-anchor="end" textLength="8.97" lengthAdjust="spacingAndGlyphs" fill="#2a2a2a" stroke="#2a2a2a" stroke-width="0.12">30</text>
<line x1="49.05" y1="326.60" x2="52.05" y2="326.60" stroke="#2a2a2a" stroke-width="1.0"/>
<text x="45.95" y="329.20" font-size="8.4" text-anchor="end" textLength="8.97" lengthAdjust="spacingAndGlyphs" fill="#2a2a2a" stroke="#2a2a2a" stroke-width="0.12">10</text>
<line x1="49.05" y1="338.60" x2="52.05" y2="338.60" stroke="#2a2a2a" stroke-width="1.0"/>
<text x="45.95" y="341.20" font-size="8.4" text-anchor="end" textLength="13.68" lengthAdjust="spacingAndGlyphs" fill="#2a2a2a" stroke="#2a2a2a" stroke-width="0.12">&#8722;10</text>
<line x1="49.05" y1="338.60" x2="135.15" y2="338.60" stroke="#2a2a2a" stroke-width="1.2"/>
<line x1="68.85" y1="338.60" x2="68.85" y2="341.60" stroke="#2a2a2a" stroke-width="0.9"/>
<line x1="93.55" y1="338.60" x2="93.55" y2="341.60" stroke="#2a2a2a" stroke-width="0.9"/>
<line x1="118.55" y1="338.60" x2="118.55" y2="341.60" stroke="#2a2a2a" stroke-width="0.9"/>
<line x1="52.05" y1="332.60" x2="135.15" y2="332.60" stroke="#2a2a2a" stroke-width="0.95"/>
<path d="M62.15 331.00L63.43 332.60L62.15 334.20L60.87 332.60Z" fill="none" stroke="#2a2a2a" stroke-width="0.75"/>
<path d="M66.65 331.00L67.93 332.60L66.65 334.20L65.37 332.60Z" fill="none" stroke="#2a2a2a" stroke-width="0.75"/>
<path d="M71.15 331.00L72.43 332.60L71.15 334.20L69.87 332.60Z" fill="none" stroke="#2a2a2a" stroke-width="0.75"/>
<path d="M75.65 331.00L76.93 332.60L75.65 334.20L74.37 332.60Z" fill="none" stroke="#2a2a2a" stroke-width="0.75"/>
<rect x="85.85" y="288.20" width="16.30" height="44.40" fill="#2ba6e0"/>
<rect x="110.65" y="283.80" width="16.20" height="48.80" fill="#c8072b"/>
<line x1="94.00" y1="278.50" x2="94.00" y2="288.20" stroke="#2a2a2a" stroke-width="1.0"/>
<line x1="89.80" y1="278.50" x2="98.20" y2="278.50" stroke="#2a2a2a" stroke-width="1.1"/>
<line x1="118.75" y1="279.20" x2="118.75" y2="283.80" stroke="#2a2a2a" stroke-width="1.0"/>
<line x1="114.55" y1="279.20" x2="122.95" y2="279.20" stroke="#2a2a2a" stroke-width="1.1"/>
<circle cx="90.00" cy="282.68" r="1.4" fill="none" stroke="#2a2a2a" stroke-width="0.75"/>
<circle cx="92.00" cy="280.70" r="1.4" fill="none" stroke="#2a2a2a" stroke-width="0.75"/>
<circle cx="95.90" cy="285.92" r="1.4" fill="none" stroke="#2a2a2a" stroke-width="0.75"/>
<circle cx="93.50" cy="302.30" r="1.4" fill="none" stroke="#17506e" stroke-width="0.75"/>
<path d="M118.45 275.78L119.95 278.48L116.95 278.48Z" fill="none" stroke="#2a2a2a" stroke-width="0.75"/>
<path d="M111.05 281.60L112.55 284.30L109.55 284.30Z" fill="none" stroke="#2a2a2a" stroke-width="0.75"/>
<path d="M125.85 279.50L127.35 282.20L124.35 282.20Z" fill="none" stroke="#2a2a2a" stroke-width="0.75"/>
<path d="M115.85 287.96L117.35 290.66L114.35 290.66Z" fill="none" stroke="#6a0a1a" stroke-width="0.75"/>
<path d="M121.65 287.96L123.15 290.66L120.15 290.66Z" fill="none" stroke="#6a0a1a" stroke-width="0.75"/>
<line x1="69.25" y1="261.00" x2="118.90" y2="261.00" stroke="#2a2a2a" stroke-width="1.05"/>
<line x1="69.65" y1="259.30" x2="69.65" y2="262.70" stroke="#2a2a2a" stroke-width="1.0"/>
<line x1="118.50" y1="259.30" x2="118.50" y2="262.70" stroke="#2a2a2a" stroke-width="1.0"/>
<circle cx="88.60" cy="256.50" r="1.12" fill="#333"/>
<circle cx="92.10" cy="256.50" r="1.12" fill="#333"/>
<circle cx="95.60" cy="256.50" r="1.12" fill="#333"/>
<circle cx="99.10" cy="256.50" r="1.12" fill="#333"/>
<line x1="68.90" y1="272.25" x2="93.50" y2="272.25" stroke="#2a2a2a" stroke-width="1.05"/>
<line x1="69.30" y1="270.55" x2="69.30" y2="273.95" stroke="#2a2a2a" stroke-width="1.0"/>
<line x1="93.10" y1="270.55" x2="93.10" y2="273.95" stroke="#2a2a2a" stroke-width="1.0"/>
<circle cx="76.10" cy="268.10" r="1.12" fill="#333"/>
<circle cx="79.60" cy="268.10" r="1.12" fill="#333"/>
<circle cx="83.10" cy="268.10" r="1.12" fill="#333"/>
<circle cx="86.60" cy="268.10" r="1.12" fill="#333"/>
<text x="93.90" y="242.40" font-size="9.8" text-anchor="middle" textLength="35.40" lengthAdjust="spacingAndGlyphs" fill="#2a2a2a" stroke="#2a2a2a" stroke-width="0.1">5 weeks</text>
<text x="15.10" y="285.34" font-size="9.4" text-anchor="middle" textLength="36.28" lengthAdjust="spacingAndGlyphs" transform="rotate(-90 15.10 285.34)" fill="#2a2a2a" stroke="#2a2a2a" stroke-width="0.17">chimerism</text>
<text x="15.10" y="319.79" font-size="9.4" text-anchor="middle" textLength="28.83" lengthAdjust="spacingAndGlyphs" transform="rotate(-90 15.10 319.79)" fill="#2a2a2a" stroke="#2a2a2a" stroke-width="0.17">% Donor</text>
<text x="26.70" y="299.60" font-size="9.4" text-anchor="middle" textLength="29.60" lengthAdjust="spacingAndGlyphs" transform="rotate(-90 26.70 299.60)" fill="#2a2a2a" stroke="#2a2a2a" stroke-width="0.17">(H2Kd<tspan font-size="6.6" dx="0.5" dy="-3.0">+</tspan><tspan dx="0.3" dy="3.0">)</tspan></text>
<line x1="196.00" y1="263.60" x2="196.00" y2="339.20" stroke="#2a2a2a" stroke-width="1.3"/>
<line x1="193.00" y1="266.60" x2="196.00" y2="266.60" stroke="#2a2a2a" stroke-width="1.0"/>
<text x="189.90" y="269.20" font-size="8.4" text-anchor="end" textLength="13.45" lengthAdjust="spacingAndGlyphs" fill="#2a2a2a" stroke="#2a2a2a" stroke-width="0.12">110</text>
<line x1="193.00" y1="278.60" x2="196.00" y2="278.60" stroke="#2a2a2a" stroke-width="1.0"/>
<text x="189.90" y="281.20" font-size="8.4" text-anchor="end" textLength="8.97" lengthAdjust="spacingAndGlyphs" fill="#2a2a2a" stroke="#2a2a2a" stroke-width="0.12">90</text>
<line x1="193.00" y1="290.60" x2="196.00" y2="290.60" stroke="#2a2a2a" stroke-width="1.0"/>
<text x="189.90" y="293.20" font-size="8.4" text-anchor="end" textLength="8.97" lengthAdjust="spacingAndGlyphs" fill="#2a2a2a" stroke="#2a2a2a" stroke-width="0.12">70</text>
<line x1="193.00" y1="302.60" x2="196.00" y2="302.60" stroke="#2a2a2a" stroke-width="1.0"/>
<text x="189.90" y="305.20" font-size="8.4" text-anchor="end" textLength="8.97" lengthAdjust="spacingAndGlyphs" fill="#2a2a2a" stroke="#2a2a2a" stroke-width="0.12">50</text>
<line x1="193.00" y1="314.60" x2="196.00" y2="314.60" stroke="#2a2a2a" stroke-width="1.0"/>
<text x="189.90" y="317.20" font-size="8.4" text-anchor="end" textLength="8.97" lengthAdjust="spacingAndGlyphs" fill="#2a2a2a" stroke="#2a2a2a" stroke-width="0.12">30</text>
<line x1="193.00" y1="326.60" x2="196.00" y2="326.60" stroke="#2a2a2a" stroke-width="1.0"/>
<text x="189.90" y="329.20" font-size="8.4" text-anchor="end" textLength="8.97" lengthAdjust="spacingAndGlyphs" fill="#2a2a2a" stroke="#2a2a2a" stroke-width="0.12">10</text>
<line x1="193.00" y1="338.60" x2="196.00" y2="338.60" stroke="#2a2a2a" stroke-width="1.0"/>
<text x="189.90" y="341.20" font-size="8.4" text-anchor="end" textLength="13.68" lengthAdjust="spacingAndGlyphs" fill="#2a2a2a" stroke="#2a2a2a" stroke-width="0.12">&#8722;10</text>
<line x1="193.00" y1="338.60" x2="279.10" y2="338.60" stroke="#2a2a2a" stroke-width="1.2"/>
<line x1="212.70" y1="338.60" x2="212.70" y2="341.60" stroke="#2a2a2a" stroke-width="0.9"/>
<line x1="237.40" y1="338.60" x2="237.40" y2="341.60" stroke="#2a2a2a" stroke-width="0.9"/>
<line x1="262.40" y1="338.60" x2="262.40" y2="341.60" stroke="#2a2a2a" stroke-width="0.9"/>
<line x1="196.00" y1="332.60" x2="279.10" y2="332.60" stroke="#2a2a2a" stroke-width="0.95"/>
<path d="M205.70 331.00L206.98 332.60L205.70 334.20L204.42 332.60Z" fill="none" stroke="#2a2a2a" stroke-width="0.75"/>
<path d="M212.70 331.00L213.98 332.60L212.70 334.20L211.42 332.60Z" fill="none" stroke="#2a2a2a" stroke-width="0.75"/>
<path d="M219.70 331.00L220.98 332.60L219.70 334.20L218.42 332.60Z" fill="none" stroke="#2a2a2a" stroke-width="0.75"/>
<rect x="229.70" y="276.10" width="16.30" height="56.50" fill="#2ba6e0"/>
<rect x="254.50" y="275.60" width="16.20" height="57.00" fill="#c8072b"/>
<circle cx="230.55" cy="274.52" r="1.4" fill="none" stroke="#2a2a2a" stroke-width="0.75"/>
<circle cx="235.35" cy="274.40" r="1.4" fill="none" stroke="#2a2a2a" stroke-width="0.75"/>
<circle cx="240.35" cy="274.40" r="1.4" fill="none" stroke="#2a2a2a" stroke-width="0.75"/>
<circle cx="245.15" cy="274.52" r="1.4" fill="none" stroke="#2a2a2a" stroke-width="0.75"/>
<path d="M255.60 273.38L257.10 276.08L254.10 276.08Z" fill="none" stroke="#2a2a2a" stroke-width="0.75"/>
<path d="M260.20 272.78L261.70 275.48L258.70 275.48Z" fill="none" stroke="#2a2a2a" stroke-width="0.75"/>
<path d="M265.00 272.78L266.50 275.48L263.50 275.48Z" fill="none" stroke="#2a2a2a" stroke-width="0.75"/>
<path d="M269.60 273.38L271.10 276.08L268.10 276.08Z" fill="none" stroke="#2a2a2a" stroke-width="0.75"/>
<line x1="213.50" y1="257.75" x2="262.90" y2="257.75" stroke="#2a2a2a" stroke-width="1.05"/>
<line x1="213.90" y1="256.05" x2="213.90" y2="259.45" stroke="#2a2a2a" stroke-width="1.0"/>
<line x1="262.50" y1="256.05" x2="262.50" y2="259.45" stroke="#2a2a2a" stroke-width="1.0"/>
<circle cx="233.75" cy="253.60" r="1.12" fill="#333"/>
<circle cx="237.08" cy="253.60" r="1.12" fill="#333"/>
<circle cx="240.42" cy="253.60" r="1.12" fill="#333"/>
<circle cx="243.75" cy="253.60" r="1.12" fill="#333"/>
<line x1="212.50" y1="267.75" x2="238.10" y2="267.75" stroke="#2a2a2a" stroke-width="1.05"/>
<line x1="212.90" y1="266.05" x2="212.90" y2="269.45" stroke="#2a2a2a" stroke-width="1.0"/>
<line x1="237.70" y1="266.05" x2="237.70" y2="269.45" stroke="#2a2a2a" stroke-width="1.0"/>
<circle cx="220.40" cy="264.00" r="1.12" fill="#333"/>
<circle cx="223.77" cy="264.00" r="1.12" fill="#333"/>
<circle cx="227.13" cy="264.00" r="1.12" fill="#333"/>
<circle cx="230.50" cy="264.00" r="1.12" fill="#333"/>
<text x="237.25" y="242.40" font-size="9.8" text-anchor="middle" textLength="40.50" lengthAdjust="spacingAndGlyphs" fill="#2a2a2a" stroke="#2a2a2a" stroke-width="0.1">20 weeks</text>
<line x1="339.60" y1="263.60" x2="339.60" y2="339.20" stroke="#2a2a2a" stroke-width="1.3"/>
<line x1="336.60" y1="266.60" x2="339.60" y2="266.60" stroke="#2a2a2a" stroke-width="1.0"/>
<text x="333.50" y="269.20" font-size="8.4" text-anchor="end" textLength="13.45" lengthAdjust="spacingAndGlyphs" fill="#2a2a2a" stroke="#2a2a2a" stroke-width="0.12">110</text>
<line x1="336.60" y1="278.60" x2="339.60" y2="278.60" stroke="#2a2a2a" stroke-width="1.0"/>
<text x="333.50" y="281.20" font-size="8.4" text-anchor="end" textLength="8.97" lengthAdjust="spacingAndGlyphs" fill="#2a2a2a" stroke="#2a2a2a" stroke-width="0.12">90</text>
<line x1="336.60" y1="290.60" x2="339.60" y2="290.60" stroke="#2a2a2a" stroke-width="1.0"/>
<text x="333.50" y="293.20" font-size="8.4" text-anchor="end" textLength="8.97" lengthAdjust="spacingAndGlyphs" fill="#2a2a2a" stroke="#2a2a2a" stroke-width="0.12">70</text>
<line x1="336.60" y1="302.60" x2="339.60" y2="302.60" stroke="#2a2a2a" stroke-width="1.0"/>
<text x="333.50" y="305.20" font-size="8.4" text-anchor="end" textLength="8.97" lengthAdjust="spacingAndGlyphs" fill="#2a2a2a" stroke="#2a2a2a" stroke-width="0.12">50</text>
<line x1="336.60" y1="314.60" x2="339.60" y2="314.60" stroke="#2a2a2a" stroke-width="1.0"/>
<text x="333.50" y="317.20" font-size="8.4" text-anchor="end" textLength="8.97" lengthAdjust="spacingAndGlyphs" fill="#2a2a2a" stroke="#2a2a2a" stroke-width="0.12">30</text>
<line x1="336.60" y1="326.60" x2="339.60" y2="326.60" stroke="#2a2a2a" stroke-width="1.0"/>
<text x="333.50" y="329.20" font-size="8.4" text-anchor="end" textLength="8.97" lengthAdjust="spacingAndGlyphs" fill="#2a2a2a" stroke="#2a2a2a" stroke-width="0.12">10</text>
<line x1="336.60" y1="338.60" x2="339.60" y2="338.60" stroke="#2a2a2a" stroke-width="1.0"/>
<text x="333.50" y="341.20" font-size="8.4" text-anchor="end" textLength="13.68" lengthAdjust="spacingAndGlyphs" fill="#2a2a2a" stroke="#2a2a2a" stroke-width="0.12">&#8722;10</text>
<line x1="336.60" y1="338.60" x2="421.40" y2="338.60" stroke="#2a2a2a" stroke-width="1.2"/>
<line x1="355.50" y1="338.60" x2="355.50" y2="341.60" stroke="#2a2a2a" stroke-width="0.9"/>
<line x1="380.20" y1="338.60" x2="380.20" y2="341.60" stroke="#2a2a2a" stroke-width="0.9"/>
<line x1="405.20" y1="338.60" x2="405.20" y2="341.60" stroke="#2a2a2a" stroke-width="0.9"/>
<line x1="339.60" y1="332.60" x2="421.40" y2="332.60" stroke="#2a2a2a" stroke-width="0.95"/>
<path d="M348.50 331.00L349.78 332.60L348.50 334.20L347.22 332.60Z" fill="none" stroke="#2a2a2a" stroke-width="0.75"/>
<path d="M355.50 331.00L356.78 332.60L355.50 334.20L354.22 332.60Z" fill="none" stroke="#2a2a2a" stroke-width="0.75"/>
<path d="M362.50 331.00L363.78 332.60L362.50 334.20L361.22 332.60Z" fill="none" stroke="#2a2a2a" stroke-width="0.75"/>
<rect x="372.50" y="274.00" width="15.70" height="58.60" fill="#2ba6e0"/>
<rect x="397.30" y="274.00" width="15.70" height="58.60" fill="#c8072b"/>
<circle cx="373.05" cy="272.60" r="1.4" fill="none" stroke="#2a2a2a" stroke-width="0.75"/>
<circle cx="377.85" cy="272.60" r="1.4" fill="none" stroke="#2a2a2a" stroke-width="0.75"/>
<circle cx="382.85" cy="272.60" r="1.4" fill="none" stroke="#2a2a2a" stroke-width="0.75"/>
<circle cx="387.65" cy="272.60" r="1.4" fill="none" stroke="#2a2a2a" stroke-width="0.75"/>
<path d="M398.15 270.98L399.65 273.68L396.65 273.68Z" fill="none" stroke="#2a2a2a" stroke-width="0.75"/>
<path d="M402.75 270.98L404.25 273.68L401.25 273.68Z" fill="none" stroke="#2a2a2a" stroke-width="0.75"/>
<path d="M407.55 270.98L409.05 273.68L406.05 273.68Z" fill="none" stroke="#2a2a2a" stroke-width="0.75"/>
<path d="M412.15 270.98L413.65 273.68L410.65 273.68Z" fill="none" stroke="#2a2a2a" stroke-width="0.75"/>
<line x1="356.10" y1="254.40" x2="404.60" y2="254.40" stroke="#2a2a2a" stroke-width="1.05"/>
<line x1="356.50" y1="252.70" x2="356.50" y2="256.10" stroke="#2a2a2a" stroke-width="1.0"/>
<line x1="404.20" y1="252.70" x2="404.20" y2="256.10" stroke="#2a2a2a" stroke-width="1.0"/>
<circle cx="375.00" cy="250.40" r="1.12" fill="#333"/>
<circle cx="378.50" cy="250.40" r="1.12" fill="#333"/>
<circle cx="382.00" cy="250.40" r="1.12" fill="#333"/>
<circle cx="385.50" cy="250.40" r="1.12" fill="#333"/>
<line x1="355.50" y1="264.40" x2="379.50" y2="264.40" stroke="#2a2a2a" stroke-width="1.05"/>
<line x1="355.90" y1="262.70" x2="355.90" y2="266.10" stroke="#2a2a2a" stroke-width="1.0"/>
<line x1="379.10" y1="262.70" x2="379.10" y2="266.10" stroke="#2a2a2a" stroke-width="1.0"/>
<circle cx="362.10" cy="260.25" r="1.12" fill="#333"/>
<circle cx="365.60" cy="260.25" r="1.12" fill="#333"/>
<circle cx="369.10" cy="260.25" r="1.12" fill="#333"/>
<circle cx="372.60" cy="260.25" r="1.12" fill="#333"/>
<text x="380.25" y="242.40" font-size="9.8" text-anchor="middle" textLength="40.50" lengthAdjust="spacingAndGlyphs" fill="#2a2a2a" stroke="#2a2a2a" stroke-width="0.1">33 weeks</text>
<line x1="52.05" y1="375.40" x2="52.05" y2="451.25" stroke="#2a2a2a" stroke-width="1.3"/>
<line x1="49.05" y1="378.15" x2="52.05" y2="378.15" stroke="#2a2a2a" stroke-width="1.0"/>
<text x="45.95" y="380.75" font-size="8.4" text-anchor="end" textLength="8.97" lengthAdjust="spacingAndGlyphs" fill="#2a2a2a" stroke="#2a2a2a" stroke-width="0.12">45</text>
<line x1="49.05" y1="392.65" x2="52.05" y2="392.65" stroke="#2a2a2a" stroke-width="1.0"/>
<text x="45.95" y="395.25" font-size="8.4" text-anchor="end" textLength="8.97" lengthAdjust="spacingAndGlyphs" fill="#2a2a2a" stroke="#2a2a2a" stroke-width="0.12">35</text>
<line x1="49.05" y1="407.15" x2="52.05" y2="407.15" stroke="#2a2a2a" stroke-width="1.0"/>
<text x="45.95" y="409.75" font-size="8.4" text-anchor="end" textLength="8.97" lengthAdjust="spacingAndGlyphs" fill="#2a2a2a" stroke="#2a2a2a" stroke-width="0.12">25</text>
<line x1="49.05" y1="421.65" x2="52.05" y2="421.65" stroke="#2a2a2a" stroke-width="1.0"/>
<text x="45.95" y="424.25" font-size="8.4" text-anchor="end" textLength="8.97" lengthAdjust="spacingAndGlyphs" fill="#2a2a2a" stroke="#2a2a2a" stroke-width="0.12">15</text>
<line x1="49.05" y1="436.15" x2="52.05" y2="436.15" stroke="#2a2a2a" stroke-width="1.0"/>
<text x="45.95" y="438.75" font-size="8.4" text-anchor="end" textLength="4.48" lengthAdjust="spacingAndGlyphs" fill="#2a2a2a" stroke="#2a2a2a" stroke-width="0.12">5</text>
<line x1="49.05" y1="450.65" x2="52.05" y2="450.65" stroke="#2a2a2a" stroke-width="1.0"/>
<text x="45.95" y="453.25" font-size="8.4" text-anchor="end" textLength="9.19" lengthAdjust="spacingAndGlyphs" fill="#2a2a2a" stroke="#2a2a2a" stroke-width="0.12">&#8722;5</text>
<line x1="49.05" y1="450.65" x2="135.15" y2="450.65" stroke="#2a2a2a" stroke-width="1.2"/>
<line x1="93.55" y1="450.65" x2="93.55" y2="453.65" stroke="#2a2a2a" stroke-width="0.9"/>
<line x1="52.05" y1="443.40" x2="135.15" y2="443.40" stroke="#2a2a2a" stroke-width="0.95"/>
<path d="M61.85 441.80L63.13 443.40L61.85 445.00L60.57 443.40Z" fill="none" stroke="#2a2a2a" stroke-width="0.75"/>
<path d="M68.85 441.80L70.13 443.40L68.85 445.00L67.57 443.40Z" fill="none" stroke="#2a2a2a" stroke-width="0.75"/>
<path d="M75.85 441.80L77.13 443.40L75.85 445.00L74.57 443.40Z" fill="none" stroke="#2a2a2a" stroke-width="0.75"/>
<rect x="85.85" y="436.80" width="16.30" height="6.60" fill="#2ba6e0"/>
<rect x="110.65" y="421.30" width="16.20" height="22.10" fill="#c8072b"/>
<line x1="94.00" y1="433.10" x2="94.00" y2="436.80" stroke="#2a2a2a" stroke-width="1.0"/>
<line x1="89.80" y1="433.10" x2="98.20" y2="433.10" stroke="#2a2a2a" stroke-width="1.1"/>
<line x1="118.75" y1="404.80" x2="118.75" y2="421.30" stroke="#2a2a2a" stroke-width="1.0"/>
<line x1="114.55" y1="404.80" x2="122.95" y2="404.80" stroke="#2a2a2a" stroke-width="1.1"/>
<circle cx="93.50" cy="432.67" r="1.4" fill="none" stroke="#2a2a2a" stroke-width="0.75"/>
<circle cx="91.40" cy="435.13" r="1.4" fill="none" stroke="#2a2a2a" stroke-width="0.75"/>
<circle cx="96.70" cy="435.13" r="1.4" fill="none" stroke="#2a2a2a" stroke-width="0.75"/>
<circle cx="93.50" cy="440.06" r="1.4" fill="none" stroke="#17506e" stroke-width="0.75"/>
<path d="M118.75 392.62L120.25 395.32L117.25 395.32Z" fill="none" stroke="#2a2a2a" stroke-width="0.75"/>
<path d="M118.75 421.91L120.25 424.61L117.25 424.61Z" fill="none" stroke="#6a0a1a" stroke-width="0.75"/>
<path d="M115.55 431.05L117.05 433.75L114.05 433.75Z" fill="none" stroke="#6a0a1a" stroke-width="0.75"/>
<path d="M121.95 431.05L123.45 433.75L120.45 433.75Z" fill="none" stroke="#6a0a1a" stroke-width="0.75"/>
<line x1="68.50" y1="386.00" x2="118.90" y2="386.00" stroke="#2a2a2a" stroke-width="1.05"/>
<line x1="68.90" y1="384.30" x2="68.90" y2="387.70" stroke="#2a2a2a" stroke-width="1.0"/>
<line x1="118.50" y1="384.30" x2="118.50" y2="387.70" stroke="#2a2a2a" stroke-width="1.0"/>
<text x="93.90" y="382.60" font-size="7.8" text-anchor="middle" textLength="30.00" lengthAdjust="spacingAndGlyphs" fill="#333" stroke="#333" stroke-width="0.12"><tspan font-style="italic">P</tspan> = .055</text>
<line x1="67.60" y1="421.90" x2="91.75" y2="421.90" stroke="#2a2a2a" stroke-width="1.05"/>
<line x1="68.00" y1="420.20" x2="68.00" y2="423.60" stroke="#2a2a2a" stroke-width="1.0"/>
<line x1="91.35" y1="420.20" x2="91.35" y2="423.60" stroke="#2a2a2a" stroke-width="1.0"/>
<circle cx="80.75" cy="410.60" r="1.12" fill="#333"/>
<text x="93.78" y="366.90" font-size="9.8" text-anchor="middle" textLength="40.55" lengthAdjust="spacingAndGlyphs" fill="#2a2a2a" stroke="#2a2a2a" stroke-width="0.1">33 weeks</text>
<text x="19.40" y="413.00" font-size="9.4" text-anchor="middle" textLength="47.90" lengthAdjust="spacingAndGlyphs" transform="rotate(-90 19.40 413.00)" fill="#2a2a2a" stroke="#2a2a2a" stroke-width="0.17">% Donor T cell</text>
<text x="31.00" y="428.43" font-size="9.4" text-anchor="middle" textLength="35.73" lengthAdjust="spacingAndGlyphs" transform="rotate(-90 31.00 428.43)" fill="#2a2a2a" stroke="#2a2a2a" stroke-width="0.17">chimerism</text>
<text x="31.00" y="393.23" font-size="9.4" text-anchor="middle" textLength="29.86" lengthAdjust="spacingAndGlyphs" transform="rotate(-90 31.00 393.23)" fill="#2a2a2a" stroke="#2a2a2a" stroke-width="0.17">(H2Kd<tspan font-size="6.6" dx="0.5" dy="-3.0">+</tspan><tspan dx="0.3" dy="3.0">)</tspan></text>
<line x1="196.00" y1="375.80" x2="196.00" y2="451.10" stroke="#2a2a2a" stroke-width="1.3"/>
<line x1="193.00" y1="377.90" x2="196.00" y2="377.90" stroke="#2a2a2a" stroke-width="1.0"/>
<text x="189.90" y="380.50" font-size="8.4" text-anchor="end" textLength="8.97" lengthAdjust="spacingAndGlyphs" fill="#2a2a2a" stroke="#2a2a2a" stroke-width="0.12">25</text>
<line x1="193.00" y1="402.10" x2="196.00" y2="402.10" stroke="#2a2a2a" stroke-width="1.0"/>
<text x="189.90" y="404.70" font-size="8.4" text-anchor="end" textLength="8.97" lengthAdjust="spacingAndGlyphs" fill="#2a2a2a" stroke="#2a2a2a" stroke-width="0.12">15</text>
<line x1="193.00" y1="426.30" x2="196.00" y2="426.30" stroke="#2a2a2a" stroke-width="1.0"/>
<text x="189.90" y="428.90" font-size="8.4" text-anchor="end" textLength="4.48" lengthAdjust="spacingAndGlyphs" fill="#2a2a2a" stroke="#2a2a2a" stroke-width="0.12">5</text>
<line x1="193.00" y1="450.50" x2="196.00" y2="450.50" stroke="#2a2a2a" stroke-width="1.0"/>
<text x="189.90" y="453.10" font-size="8.4" text-anchor="end" textLength="9.19" lengthAdjust="spacingAndGlyphs" fill="#2a2a2a" stroke="#2a2a2a" stroke-width="0.12">&#8722;5</text>
<line x1="193.00" y1="450.50" x2="279.10" y2="450.50" stroke="#2a2a2a" stroke-width="1.2"/>
<line x1="237.40" y1="450.50" x2="237.40" y2="453.50" stroke="#2a2a2a" stroke-width="0.9"/>
<line x1="196.00" y1="438.40" x2="279.10" y2="438.40" stroke="#2a2a2a" stroke-width="0.95"/>
<path d="M205.70 436.80L206.98 438.40L205.70 440.00L204.42 438.40Z" fill="none" stroke="#2a2a2a" stroke-width="0.75"/>
<path d="M212.70 436.80L213.98 438.40L212.70 440.00L211.42 438.40Z" fill="none" stroke="#2a2a2a" stroke-width="0.75"/>
<path d="M219.70 436.80L220.98 438.40L219.70 440.00L218.42 438.40Z" fill="none" stroke="#2a2a2a" stroke-width="0.75"/>
<rect x="229.70" y="415.20" width="16.30" height="23.20" fill="#2ba6e0"/>
<rect x="254.50" y="392.90" width="16.20" height="45.50" fill="#c8072b"/>
<line x1="237.85" y1="401.90" x2="237.85" y2="415.20" stroke="#2a2a2a" stroke-width="1.0"/>
<line x1="233.65" y1="401.90" x2="242.05" y2="401.90" stroke="#2a2a2a" stroke-width="1.1"/>
<line x1="262.60" y1="387.00" x2="262.60" y2="392.90" stroke="#2a2a2a" stroke-width="1.0"/>
<line x1="258.40" y1="387.00" x2="266.80" y2="387.00" stroke="#2a2a2a" stroke-width="1.1"/>
<circle cx="237.85" cy="396.29" r="1.4" fill="none" stroke="#2a2a2a" stroke-width="0.75"/>
<circle cx="234.45" cy="424.12" r="1.4" fill="none" stroke="#17506e" stroke-width="0.75"/>
<circle cx="240.55" cy="424.12" r="1.4" fill="none" stroke="#17506e" stroke-width="0.75"/>
<circle cx="237.85" cy="415.41" r="1.4" fill="none" stroke="#2a2a2a" stroke-width="0.75"/>
<path d="M258.90 386.93L260.40 389.63L257.40 389.63Z" fill="none" stroke="#2a2a2a" stroke-width="0.75"/>
<path d="M262.60 386.93L264.10 389.63L261.10 389.63Z" fill="none" stroke="#2a2a2a" stroke-width="0.75"/>
<path d="M266.50 386.93L268.00 389.63L265.00 389.63Z" fill="none" stroke="#2a2a2a" stroke-width="0.75"/>
<path d="M262.60 395.40L264.10 398.10L261.10 398.10Z" fill="none" stroke="#6a0a1a" stroke-width="0.75"/>
<path d="M262.60 400.48L264.10 403.18L261.10 403.18Z" fill="none" stroke="#6a0a1a" stroke-width="0.75"/>
<line x1="211.25" y1="387.40" x2="235.40" y2="387.40" stroke="#2a2a2a" stroke-width="1.05"/>
<line x1="211.65" y1="385.70" x2="211.65" y2="389.10" stroke="#2a2a2a" stroke-width="1.0"/>
<line x1="235.00" y1="385.70" x2="235.00" y2="389.10" stroke="#2a2a2a" stroke-width="1.0"/>
<circle cx="223.75" cy="383.25" r="1.12" fill="#333"/>
<line x1="238.50" y1="379.00" x2="262.25" y2="379.00" stroke="#2a2a2a" stroke-width="1.05"/>
<line x1="238.90" y1="377.30" x2="238.90" y2="380.70" stroke="#2a2a2a" stroke-width="1.0"/>
<line x1="261.85" y1="377.30" x2="261.85" y2="380.70" stroke="#2a2a2a" stroke-width="1.0"/>
<circle cx="250.60" cy="374.50" r="1.12" fill="#333"/>
<text x="237.35" y="366.90" font-size="9.8" text-anchor="middle" textLength="40.70" lengthAdjust="spacingAndGlyphs" fill="#2a2a2a" stroke="#2a2a2a" stroke-width="0.1">33 weeks</text>
<text x="164.00" y="413.30" font-size="9.4" text-anchor="middle" textLength="50.20" lengthAdjust="spacingAndGlyphs" transform="rotate(-90 164.00 413.30)" fill="#2a2a2a" stroke="#2a2a2a" stroke-width="0.17">% Donor B cell</text>
<text x="175.10" y="428.30" font-size="9.4" text-anchor="middle" textLength="35.89" lengthAdjust="spacingAndGlyphs" transform="rotate(-90 175.10 428.30)" fill="#2a2a2a" stroke="#2a2a2a" stroke-width="0.17">chimerism</text>
<text x="175.10" y="392.95" font-size="9.4" text-anchor="middle" textLength="29.99" lengthAdjust="spacingAndGlyphs" transform="rotate(-90 175.10 392.95)" fill="#2a2a2a" stroke="#2a2a2a" stroke-width="0.17">(H2Kd<tspan font-size="6.6" dx="0.5" dy="-3.0">+</tspan><tspan dx="0.3" dy="3.0">)</tspan></text>
<line x1="339.60" y1="375.80" x2="339.60" y2="450.70" stroke="#2a2a2a" stroke-width="1.3"/>
<line x1="336.60" y1="378.10" x2="339.60" y2="378.10" stroke="#2a2a2a" stroke-width="1.0"/>
<text x="333.50" y="380.70" font-size="8.4" text-anchor="end" textLength="13.45" lengthAdjust="spacingAndGlyphs" fill="#2a2a2a" stroke="#2a2a2a" stroke-width="0.12">115</text>
<line x1="336.60" y1="390.10" x2="339.60" y2="390.10" stroke="#2a2a2a" stroke-width="1.0"/>
<text x="333.50" y="392.70" font-size="8.4" text-anchor="end" textLength="8.97" lengthAdjust="spacingAndGlyphs" fill="#2a2a2a" stroke="#2a2a2a" stroke-width="0.12">95</text>
<line x1="336.60" y1="402.10" x2="339.60" y2="402.10" stroke="#2a2a2a" stroke-width="1.0"/>
<text x="333.50" y="404.70" font-size="8.4" text-anchor="end" textLength="8.97" lengthAdjust="spacingAndGlyphs" fill="#2a2a2a" stroke="#2a2a2a" stroke-width="0.12">75</text>
<line x1="336.60" y1="414.10" x2="339.60" y2="414.10" stroke="#2a2a2a" stroke-width="1.0"/>
<text x="333.50" y="416.70" font-size="8.4" text-anchor="end" textLength="8.97" lengthAdjust="spacingAndGlyphs" fill="#2a2a2a" stroke="#2a2a2a" stroke-width="0.12">55</text>
<line x1="336.60" y1="426.10" x2="339.60" y2="426.10" stroke="#2a2a2a" stroke-width="1.0"/>
<text x="333.50" y="428.70" font-size="8.4" text-anchor="end" textLength="8.97" lengthAdjust="spacingAndGlyphs" fill="#2a2a2a" stroke="#2a2a2a" stroke-width="0.12">35</text>
<line x1="336.60" y1="438.10" x2="339.60" y2="438.10" stroke="#2a2a2a" stroke-width="1.0"/>
<text x="333.50" y="440.70" font-size="8.4" text-anchor="end" textLength="8.97" lengthAdjust="spacingAndGlyphs" fill="#2a2a2a" stroke="#2a2a2a" stroke-width="0.12">15</text>
<line x1="336.60" y1="450.10" x2="339.60" y2="450.10" stroke="#2a2a2a" stroke-width="1.0"/>
<text x="333.50" y="452.70" font-size="8.4" text-anchor="end" textLength="9.19" lengthAdjust="spacingAndGlyphs" fill="#2a2a2a" stroke="#2a2a2a" stroke-width="0.12">&#8722;5</text>
<line x1="336.60" y1="450.10" x2="421.40" y2="450.10" stroke="#2a2a2a" stroke-width="1.2"/>
<line x1="380.20" y1="450.10" x2="380.20" y2="453.10" stroke="#2a2a2a" stroke-width="0.9"/>
<line x1="339.60" y1="447.10" x2="421.40" y2="447.10" stroke="#2a2a2a" stroke-width="0.95"/>
<path d="M348.50 445.50L349.78 447.10L348.50 448.70L347.22 447.10Z" fill="none" stroke="#2a2a2a" stroke-width="0.75"/>
<path d="M355.50 445.50L356.78 447.10L355.50 448.70L354.22 447.10Z" fill="none" stroke="#2a2a2a" stroke-width="0.75"/>
<path d="M362.50 445.50L363.78 447.10L362.50 448.70L361.22 447.10Z" fill="none" stroke="#2a2a2a" stroke-width="0.75"/>
<rect x="372.50" y="400.00" width="15.70" height="47.10" fill="#2ba6e0"/>
<rect x="397.30" y="411.10" width="15.70" height="36.00" fill="#c8072b"/>
<line x1="380.35" y1="391.10" x2="380.35" y2="400.00" stroke="#2a2a2a" stroke-width="1.0"/>
<line x1="376.15" y1="391.10" x2="384.55" y2="391.10" stroke="#2a2a2a" stroke-width="1.1"/>
<line x1="405.15" y1="402.40" x2="405.15" y2="411.10" stroke="#2a2a2a" stroke-width="1.0"/>
<line x1="400.95" y1="402.40" x2="409.35" y2="402.40" stroke="#2a2a2a" stroke-width="1.1"/>
<circle cx="380.35" cy="389.02" r="1.4" fill="none" stroke="#2a2a2a" stroke-width="0.75"/>
<circle cx="380.35" cy="393.70" r="1.4" fill="none" stroke="#2a2a2a" stroke-width="0.75"/>
<circle cx="380.35" cy="401.92" r="1.4" fill="none" stroke="#2a2a2a" stroke-width="0.75"/>
<circle cx="380.35" cy="408.22" r="1.4" fill="none" stroke="#17506e" stroke-width="0.75"/>
<path d="M404.95 398.38L406.45 401.08L403.45 401.08Z" fill="none" stroke="#2a2a2a" stroke-width="0.75"/>
<path d="M404.95 404.38L406.45 407.08L403.45 407.08Z" fill="none" stroke="#2a2a2a" stroke-width="0.75"/>
<path d="M407.15 402.28L408.65 404.98L405.65 404.98Z" fill="none" stroke="#2a2a2a" stroke-width="0.75"/>
<path d="M404.95 418.48L406.45 421.18L403.45 421.18Z" fill="none" stroke="#6a0a1a" stroke-width="0.75"/>
<line x1="353.40" y1="383.90" x2="377.90" y2="383.90" stroke="#2a2a2a" stroke-width="1.05"/>
<line x1="353.80" y1="382.20" x2="353.80" y2="385.60" stroke="#2a2a2a" stroke-width="1.0"/>
<line x1="377.50" y1="382.20" x2="377.50" y2="385.60" stroke="#2a2a2a" stroke-width="1.0"/>
<circle cx="361.90" cy="380.20" r="1.12" fill="#333"/>
<circle cx="365.65" cy="380.20" r="1.12" fill="#333"/>
<circle cx="369.40" cy="380.20" r="1.12" fill="#333"/>
<line x1="383.80" y1="383.90" x2="408.60" y2="383.90" stroke="#2a2a2a" stroke-width="1.05"/>
<line x1="384.20" y1="382.20" x2="384.20" y2="385.60" stroke="#2a2a2a" stroke-width="1.0"/>
<line x1="408.20" y1="382.20" x2="408.20" y2="385.60" stroke="#2a2a2a" stroke-width="1.0"/>
<text x="396.20" y="380.60" font-size="7.8" text-anchor="middle" textLength="24.80" lengthAdjust="spacingAndGlyphs" fill="#333" stroke="#333" stroke-width="0.12"><tspan font-style="italic">P</tspan> = .07</text>
<text x="380.30" y="366.90" font-size="9.8" text-anchor="middle" textLength="40.60" lengthAdjust="spacingAndGlyphs" fill="#2a2a2a" stroke="#2a2a2a" stroke-width="0.1">33 weeks</text>
<text x="302.80" y="412.40" font-size="9.4" text-anchor="middle" textLength="72.10" lengthAdjust="spacingAndGlyphs" transform="rotate(-90 302.80 412.40)" fill="#2a2a2a" stroke="#2a2a2a" stroke-width="0.17">% Donor myeloid cell</text>
<text x="314.60" y="428.51" font-size="9.4" text-anchor="middle" textLength="35.47" lengthAdjust="spacingAndGlyphs" transform="rotate(-90 314.60 428.51)" fill="#2a2a2a" stroke="#2a2a2a" stroke-width="0.17">chimerism</text>
<text x="314.60" y="393.57" font-size="9.4" text-anchor="middle" textLength="29.64" lengthAdjust="spacingAndGlyphs" transform="rotate(-90 314.60 393.57)" fill="#2a2a2a" stroke="#2a2a2a" stroke-width="0.17">(H2Kd<tspan font-size="6.6" dx="0.5" dy="-3.0">+</tspan><tspan dx="0.3" dy="3.0">)</tspan></text>
<line x1="52.05" y1="501.60" x2="52.05" y2="577.20" stroke="#2a2a2a" stroke-width="1.3"/>
<line x1="49.05" y1="504.60" x2="52.05" y2="504.60" stroke="#2a2a2a" stroke-width="1.0"/>
<text x="45.95" y="507.20" font-size="8.4" text-anchor="end" textLength="13.45" lengthAdjust="spacingAndGlyphs" fill="#2a2a2a" stroke="#2a2a2a" stroke-width="0.12">110</text>
<line x1="49.05" y1="516.60" x2="52.05" y2="516.60" stroke="#2a2a2a" stroke-width="1.0"/>
<text x="45.95" y="519.20" font-size="8.4" text-anchor="end" textLength="8.97" lengthAdjust="spacingAndGlyphs" fill="#2a2a2a" stroke="#2a2a2a" stroke-width="0.12">90</text>
<line x1="49.05" y1="528.60" x2="52.05" y2="528.60" stroke="#2a2a2a" stroke-width="1.0"/>
<text x="45.95" y="531.20" font-size="8.4" text-anchor="end" textLength="8.97" lengthAdjust="spacingAndGlyphs" fill="#2a2a2a" stroke="#2a2a2a" stroke-width="0.12">70</text>
<line x1="49.05" y1="540.60" x2="52.05" y2="540.60" stroke="#2a2a2a" stroke-width="1.0"/>
<text x="45.95" y="543.20" font-size="8.4" text-anchor="end" textLength="8.97" lengthAdjust="spacingAndGlyphs" fill="#2a2a2a" stroke="#2a2a2a" stroke-width="0.12">50</text>
<line x1="49.05" y1="552.60" x2="52.05" y2="552.60" stroke="#2a2a2a" stroke-width="1.0"/>
<text x="45.95" y="555.20" font-size="8.4" text-anchor="end" textLength="8.97" lengthAdjust="spacingAndGlyphs" fill="#2a2a2a" stroke="#2a2a2a" stroke-width="0.12">30</text>
<line x1="49.05" y1="564.60" x2="52.05" y2="564.60" stroke="#2a2a2a" stroke-width="1.0"/>
<text x="45.95" y="567.20" font-size="8.4" text-anchor="end" textLength="8.97" lengthAdjust="spacingAndGlyphs" fill="#2a2a2a" stroke="#2a2a2a" stroke-width="0.12">10</text>
<line x1="49.05" y1="576.60" x2="52.05" y2="576.60" stroke="#2a2a2a" stroke-width="1.0"/>
<text x="45.95" y="579.20" font-size="8.4" text-anchor="end" textLength="13.68" lengthAdjust="spacingAndGlyphs" fill="#2a2a2a" stroke="#2a2a2a" stroke-width="0.12">&#8722;10</text>
<line x1="49.05" y1="576.60" x2="135.15" y2="576.60" stroke="#2a2a2a" stroke-width="1.2"/>
<line x1="93.55" y1="576.60" x2="93.55" y2="579.60" stroke="#2a2a2a" stroke-width="0.9"/>
<line x1="52.05" y1="570.60" x2="135.15" y2="570.60" stroke="#2a2a2a" stroke-width="0.95"/>
<path d="M61.85 569.00L63.13 570.60L61.85 572.20L60.57 570.60Z" fill="none" stroke="#2a2a2a" stroke-width="0.75"/>
<path d="M68.85 569.00L70.13 570.60L68.85 572.20L67.57 570.60Z" fill="none" stroke="#2a2a2a" stroke-width="0.75"/>
<path d="M75.85 569.00L77.13 570.60L75.85 572.20L74.57 570.60Z" fill="none" stroke="#2a2a2a" stroke-width="0.75"/>
<rect x="85.85" y="511.10" width="16.30" height="59.50" fill="#2ba6e0"/>
<rect x="110.65" y="511.90" width="16.20" height="58.70" fill="#c8072b"/>
<circle cx="86.50" cy="510.60" r="1.4" fill="none" stroke="#2a2a2a" stroke-width="0.75"/>
<circle cx="91.50" cy="510.60" r="1.4" fill="none" stroke="#2a2a2a" stroke-width="0.75"/>
<circle cx="96.50" cy="510.60" r="1.4" fill="none" stroke="#2a2a2a" stroke-width="0.75"/>
<circle cx="101.50" cy="510.60" r="1.4" fill="none" stroke="#2a2a2a" stroke-width="0.75"/>
<path d="M111.85 509.58L113.35 512.28L110.35 512.28Z" fill="none" stroke="#2a2a2a" stroke-width="0.75"/>
<path d="M116.45 509.28L117.95 511.98L114.95 511.98Z" fill="none" stroke="#2a2a2a" stroke-width="0.75"/>
<path d="M121.05 509.28L122.55 511.98L119.55 511.98Z" fill="none" stroke="#2a2a2a" stroke-width="0.75"/>
<path d="M125.65 510.18L127.15 512.88L124.15 512.88Z" fill="none" stroke="#2a2a2a" stroke-width="0.75"/>
<line x1="68.50" y1="490.60" x2="118.90" y2="490.60" stroke="#2a2a2a" stroke-width="1.05"/>
<line x1="68.90" y1="488.90" x2="68.90" y2="492.30" stroke="#2a2a2a" stroke-width="1.0"/>
<line x1="118.50" y1="488.90" x2="118.50" y2="492.30" stroke="#2a2a2a" stroke-width="1.0"/>
<circle cx="88.00" cy="486.25" r="1.12" fill="#333"/>
<circle cx="91.63" cy="486.25" r="1.12" fill="#333"/>
<circle cx="95.27" cy="486.25" r="1.12" fill="#333"/>
<circle cx="98.90" cy="486.25" r="1.12" fill="#333"/>
<line x1="68.50" y1="501.25" x2="94.75" y2="501.25" stroke="#2a2a2a" stroke-width="1.05"/>
<line x1="68.90" y1="499.55" x2="68.90" y2="502.95" stroke="#2a2a2a" stroke-width="1.0"/>
<line x1="94.35" y1="499.55" x2="94.35" y2="502.95" stroke="#2a2a2a" stroke-width="1.0"/>
<circle cx="76.10" cy="496.60" r="1.12" fill="#333"/>
<circle cx="79.73" cy="496.60" r="1.12" fill="#333"/>
<circle cx="83.37" cy="496.60" r="1.12" fill="#333"/>
<circle cx="87.00" cy="496.60" r="1.12" fill="#333"/>
<text x="93.80" y="478.70" font-size="9.8" text-anchor="middle" textLength="14.60" lengthAdjust="spacingAndGlyphs" fill="#2a2a2a" stroke="#2a2a2a" stroke-width="0.1">BM</text>
<text x="15.30" y="522.98" font-size="9.4" text-anchor="middle" textLength="36.17" lengthAdjust="spacingAndGlyphs" transform="rotate(-90 15.30 522.98)" fill="#2a2a2a" stroke="#2a2a2a" stroke-width="0.17">chimerism</text>
<text x="15.30" y="557.33" font-size="9.4" text-anchor="middle" textLength="28.74" lengthAdjust="spacingAndGlyphs" transform="rotate(-90 15.30 557.33)" fill="#2a2a2a" stroke="#2a2a2a" stroke-width="0.17">% Donor</text>
<text x="26.50" y="538.20" font-size="9.4" text-anchor="middle" textLength="29.60" lengthAdjust="spacingAndGlyphs" transform="rotate(-90 26.50 538.20)" fill="#2a2a2a" stroke="#2a2a2a" stroke-width="0.17">(H2Kd<tspan font-size="6.6" dx="0.5" dy="-3.0">+</tspan><tspan dx="0.3" dy="3.0">)</tspan></text>
<line x1="196.00" y1="501.60" x2="196.00" y2="577.20" stroke="#2a2a2a" stroke-width="1.3"/>
<line x1="193.00" y1="504.60" x2="196.00" y2="504.60" stroke="#2a2a2a" stroke-width="1.0"/>
<text x="189.90" y="507.20" font-size="8.4" text-anchor="end" textLength="13.45" lengthAdjust="spacingAndGlyphs" fill="#2a2a2a" stroke="#2a2a2a" stroke-width="0.12">110</text>
<line x1="193.00" y1="516.60" x2="196.00" y2="516.60" stroke="#2a2a2a" stroke-width="1.0"/>
<text x="189.90" y="519.20" font-size="8.4" text-anchor="end" textLength="8.97" lengthAdjust="spacingAndGlyphs" fill="#2a2a2a" stroke="#2a2a2a" stroke-width="0.12">90</text>
<line x1="193.00" y1="528.60" x2="196.00" y2="528.60" stroke="#2a2a2a" stroke-width="1.0"/>
<text x="189.90" y="531.20" font-size="8.4" text-anchor="end" textLength="8.97" lengthAdjust="spacingAndGlyphs" fill="#2a2a2a" stroke="#2a2a2a" stroke-width="0.12">70</text>
<line x1="193.00" y1="540.60" x2="196.00" y2="540.60" stroke="#2a2a2a" stroke-width="1.0"/>
<text x="189.90" y="543.20" font-size="8.4" text-anchor="end" textLength="8.97" lengthAdjust="spacingAndGlyphs" fill="#2a2a2a" stroke="#2a2a2a" stroke-width="0.12">50</text>
<line x1="193.00" y1="552.60" x2="196.00" y2="552.60" stroke="#2a2a2a" stroke-width="1.0"/>
<text x="189.90" y="555.20" font-size="8.4" text-anchor="end" textLength="8.97" lengthAdjust="spacingAndGlyphs" fill="#2a2a2a" stroke="#2a2a2a" stroke-width="0.12">30</text>
<line x1="193.00" y1="564.60" x2="196.00" y2="564.60" stroke="#2a2a2a" stroke-width="1.0"/>
<text x="189.90" y="567.20" font-size="8.4" text-anchor="end" textLength="8.97" lengthAdjust="spacingAndGlyphs" fill="#2a2a2a" stroke="#2a2a2a" stroke-width="0.12">10</text>
<line x1="193.00" y1="576.60" x2="196.00" y2="576.60" stroke="#2a2a2a" stroke-width="1.0"/>
<text x="189.90" y="579.20" font-size="8.4" text-anchor="end" textLength="13.68" lengthAdjust="spacingAndGlyphs" fill="#2a2a2a" stroke="#2a2a2a" stroke-width="0.12">&#8722;10</text>
<line x1="193.00" y1="576.60" x2="279.10" y2="576.60" stroke="#2a2a2a" stroke-width="1.2"/>
<line x1="237.40" y1="576.60" x2="237.40" y2="579.60" stroke="#2a2a2a" stroke-width="0.9"/>
<line x1="196.00" y1="570.60" x2="279.10" y2="570.60" stroke="#2a2a2a" stroke-width="0.95"/>
<path d="M205.70 569.00L206.98 570.60L205.70 572.20L204.42 570.60Z" fill="none" stroke="#2a2a2a" stroke-width="0.75"/>
<path d="M212.70 569.00L213.98 570.60L212.70 572.20L211.42 570.60Z" fill="none" stroke="#2a2a2a" stroke-width="0.75"/>
<path d="M219.70 569.00L220.98 570.60L219.70 572.20L218.42 570.60Z" fill="none" stroke="#2a2a2a" stroke-width="0.75"/>
<rect x="229.70" y="511.10" width="16.30" height="59.50" fill="#2ba6e0"/>
<rect x="254.50" y="511.60" width="16.20" height="59.00" fill="#c8072b"/>
<circle cx="230.35" cy="509.70" r="1.4" fill="none" stroke="#2a2a2a" stroke-width="0.75"/>
<circle cx="235.35" cy="509.70" r="1.4" fill="none" stroke="#2a2a2a" stroke-width="0.75"/>
<circle cx="240.35" cy="509.70" r="1.4" fill="none" stroke="#2a2a2a" stroke-width="0.75"/>
<circle cx="245.35" cy="509.70" r="1.4" fill="none" stroke="#2a2a2a" stroke-width="0.75"/>
<path d="M255.70 508.98L257.20 511.68L254.20 511.68Z" fill="none" stroke="#2a2a2a" stroke-width="0.75"/>
<path d="M260.30 508.68L261.80 511.38L258.80 511.38Z" fill="none" stroke="#2a2a2a" stroke-width="0.75"/>
<path d="M264.90 508.68L266.40 511.38L263.40 511.38Z" fill="none" stroke="#2a2a2a" stroke-width="0.75"/>
<path d="M269.50 508.98L271.00 511.68L268.00 511.68Z" fill="none" stroke="#2a2a2a" stroke-width="0.75"/>
<line x1="215.75" y1="491.75" x2="262.40" y2="491.75" stroke="#2a2a2a" stroke-width="1.05"/>
<line x1="216.15" y1="490.05" x2="216.15" y2="493.45" stroke="#2a2a2a" stroke-width="1.0"/>
<line x1="262.00" y1="490.05" x2="262.00" y2="493.45" stroke="#2a2a2a" stroke-width="1.0"/>
<circle cx="233.75" cy="487.60" r="1.12" fill="#333"/>
<circle cx="237.25" cy="487.60" r="1.12" fill="#333"/>
<circle cx="240.75" cy="487.60" r="1.12" fill="#333"/>
<circle cx="244.25" cy="487.60" r="1.12" fill="#333"/>
<line x1="215.75" y1="502.25" x2="239.00" y2="502.25" stroke="#2a2a2a" stroke-width="1.05"/>
<line x1="216.15" y1="500.55" x2="216.15" y2="503.95" stroke="#2a2a2a" stroke-width="1.0"/>
<line x1="238.60" y1="500.55" x2="238.60" y2="503.95" stroke="#2a2a2a" stroke-width="1.0"/>
<circle cx="222.10" cy="498.25" r="1.12" fill="#333"/>
<circle cx="225.82" cy="498.25" r="1.12" fill="#333"/>
<circle cx="229.53" cy="498.25" r="1.12" fill="#333"/>
<circle cx="233.25" cy="498.25" r="1.12" fill="#333"/>
<text x="237.80" y="478.80" font-size="9.8" text-anchor="middle" textLength="33.20" lengthAdjust="spacingAndGlyphs" fill="#2a2a2a" stroke="#2a2a2a" stroke-width="0.1">Thymus</text>
<text x="159.40" y="523.18" font-size="9.4" text-anchor="middle" textLength="36.17" lengthAdjust="spacingAndGlyphs" transform="rotate(-90 159.40 523.18)" fill="#2a2a2a" stroke="#2a2a2a" stroke-width="0.17">chimerism</text>
<text x="159.40" y="557.53" font-size="9.4" text-anchor="middle" textLength="28.74" lengthAdjust="spacingAndGlyphs" transform="rotate(-90 159.40 557.53)" fill="#2a2a2a" stroke="#2a2a2a" stroke-width="0.17">% Donor</text>
<text x="170.70" y="539.00" font-size="9.4" text-anchor="middle" textLength="29.50" lengthAdjust="spacingAndGlyphs" transform="rotate(-90 170.70 539.00)" fill="#2a2a2a" stroke="#2a2a2a" stroke-width="0.17">(H2Kd<tspan font-size="6.6" dx="0.5" dy="-3.0">+</tspan><tspan dx="0.3" dy="3.0">)</tspan></text>
<line x1="339.60" y1="501.60" x2="339.60" y2="577.20" stroke="#2a2a2a" stroke-width="1.3"/>
<line x1="336.60" y1="504.60" x2="339.60" y2="504.60" stroke="#2a2a2a" stroke-width="1.0"/>
<text x="333.50" y="507.20" font-size="8.4" text-anchor="end" textLength="13.45" lengthAdjust="spacingAndGlyphs" fill="#2a2a2a" stroke="#2a2a2a" stroke-width="0.12">110</text>
<line x1="336.60" y1="516.60" x2="339.60" y2="516.60" stroke="#2a2a2a" stroke-width="1.0"/>
<text x="333.50" y="519.20" font-size="8.4" text-anchor="end" textLength="8.97" lengthAdjust="spacingAndGlyphs" fill="#2a2a2a" stroke="#2a2a2a" stroke-width="0.12">90</text>
<line x1="336.60" y1="528.60" x2="339.60" y2="528.60" stroke="#2a2a2a" stroke-width="1.0"/>
<text x="333.50" y="531.20" font-size="8.4" text-anchor="end" textLength="8.97" lengthAdjust="spacingAndGlyphs" fill="#2a2a2a" stroke="#2a2a2a" stroke-width="0.12">70</text>
<line x1="336.60" y1="540.60" x2="339.60" y2="540.60" stroke="#2a2a2a" stroke-width="1.0"/>
<text x="333.50" y="543.20" font-size="8.4" text-anchor="end" textLength="8.97" lengthAdjust="spacingAndGlyphs" fill="#2a2a2a" stroke="#2a2a2a" stroke-width="0.12">50</text>
<line x1="336.60" y1="552.60" x2="339.60" y2="552.60" stroke="#2a2a2a" stroke-width="1.0"/>
<text x="333.50" y="555.20" font-size="8.4" text-anchor="end" textLength="8.97" lengthAdjust="spacingAndGlyphs" fill="#2a2a2a" stroke="#2a2a2a" stroke-width="0.12">30</text>
<line x1="336.60" y1="564.60" x2="339.60" y2="564.60" stroke="#2a2a2a" stroke-width="1.0"/>
<text x="333.50" y="567.20" font-size="8.4" text-anchor="end" textLength="8.97" lengthAdjust="spacingAndGlyphs" fill="#2a2a2a" stroke="#2a2a2a" stroke-width="0.12">10</text>
<line x1="336.60" y1="576.60" x2="339.60" y2="576.60" stroke="#2a2a2a" stroke-width="1.0"/>
<text x="333.50" y="579.20" font-size="8.4" text-anchor="end" textLength="13.68" lengthAdjust="spacingAndGlyphs" fill="#2a2a2a" stroke="#2a2a2a" stroke-width="0.12">&#8722;10</text>
<line x1="336.60" y1="576.60" x2="421.40" y2="576.60" stroke="#2a2a2a" stroke-width="1.2"/>
<line x1="380.20" y1="576.60" x2="380.20" y2="579.60" stroke="#2a2a2a" stroke-width="0.9"/>
<line x1="339.60" y1="570.60" x2="421.40" y2="570.60" stroke="#2a2a2a" stroke-width="0.95"/>
<path d="M348.50 569.00L349.78 570.60L348.50 572.20L347.22 570.60Z" fill="none" stroke="#2a2a2a" stroke-width="0.75"/>
<path d="M355.50 569.00L356.78 570.60L355.50 572.20L354.22 570.60Z" fill="none" stroke="#2a2a2a" stroke-width="0.75"/>
<path d="M362.50 569.00L363.78 570.60L362.50 572.20L361.22 570.60Z" fill="none" stroke="#2a2a2a" stroke-width="0.75"/>
<rect x="372.50" y="514.80" width="15.70" height="55.80" fill="#2ba6e0"/>
<rect x="397.30" y="516.90" width="15.70" height="53.70" fill="#c8072b"/>
<line x1="380.35" y1="512.50" x2="380.35" y2="514.80" stroke="#2a2a2a" stroke-width="1.0"/>
<line x1="376.15" y1="512.50" x2="384.55" y2="512.50" stroke="#2a2a2a" stroke-width="1.1"/>
<line x1="405.15" y1="511.10" x2="405.15" y2="516.90" stroke="#2a2a2a" stroke-width="1.0"/>
<line x1="400.95" y1="511.10" x2="409.35" y2="511.10" stroke="#2a2a2a" stroke-width="1.1"/>
<circle cx="373.65" cy="512.52" r="1.4" fill="none" stroke="#2a2a2a" stroke-width="0.75"/>
<circle cx="387.05" cy="512.52" r="1.4" fill="none" stroke="#2a2a2a" stroke-width="0.75"/>
<circle cx="380.35" cy="514.02" r="1.4" fill="none" stroke="#2a2a2a" stroke-width="0.75"/>
<circle cx="380.35" cy="517.02" r="1.4" fill="none" stroke="#17506e" stroke-width="0.75"/>
<path d="M401.65 508.98L403.15 511.68L400.15 511.68Z" fill="none" stroke="#2a2a2a" stroke-width="0.75"/>
<path d="M408.15 508.98L409.65 511.68L406.65 511.68Z" fill="none" stroke="#2a2a2a" stroke-width="0.75"/>
<path d="M405.15 511.38L406.65 514.08L403.65 514.08Z" fill="none" stroke="#2a2a2a" stroke-width="0.75"/>
<line x1="353.50" y1="496.00" x2="399.50" y2="496.00" stroke="#2a2a2a" stroke-width="1.05"/>
<line x1="353.90" y1="494.30" x2="353.90" y2="497.70" stroke="#2a2a2a" stroke-width="1.0"/>
<line x1="399.10" y1="494.30" x2="399.10" y2="497.70" stroke="#2a2a2a" stroke-width="1.0"/>
<circle cx="370.75" cy="491.50" r="1.12" fill="#333"/>
<circle cx="374.47" cy="491.50" r="1.12" fill="#333"/>
<circle cx="378.18" cy="491.50" r="1.12" fill="#333"/>
<circle cx="381.90" cy="491.50" r="1.12" fill="#333"/>
<line x1="353.50" y1="505.60" x2="376.60" y2="505.60" stroke="#2a2a2a" stroke-width="1.05"/>
<line x1="353.90" y1="503.90" x2="353.90" y2="507.30" stroke="#2a2a2a" stroke-width="1.0"/>
<line x1="376.20" y1="503.90" x2="376.20" y2="507.30" stroke="#2a2a2a" stroke-width="1.0"/>
<circle cx="359.75" cy="501.50" r="1.12" fill="#333"/>
<circle cx="363.37" cy="501.50" r="1.12" fill="#333"/>
<circle cx="366.98" cy="501.50" r="1.12" fill="#333"/>
<circle cx="370.60" cy="501.50" r="1.12" fill="#333"/>
<text x="380.30" y="478.80" font-size="9.8" text-anchor="middle" textLength="30.00" lengthAdjust="spacingAndGlyphs" fill="#2a2a2a" stroke="#2a2a2a" stroke-width="0.1">Spleen</text>
<text x="303.30" y="522.92" font-size="9.4" text-anchor="middle" textLength="35.85" lengthAdjust="spacingAndGlyphs" transform="rotate(-90 303.30 522.92)" fill="#2a2a2a" stroke="#2a2a2a" stroke-width="0.17">chimerism</text>
<text x="303.30" y="556.96" font-size="9.4" text-anchor="middle" textLength="28.49" lengthAdjust="spacingAndGlyphs" transform="rotate(-90 303.30 556.96)" fill="#2a2a2a" stroke="#2a2a2a" stroke-width="0.17">% Donor</text>
<text x="314.80" y="538.30" font-size="9.4" text-anchor="middle" textLength="29.60" lengthAdjust="spacingAndGlyphs" transform="rotate(-90 314.80 538.30)" fill="#2a2a2a" stroke="#2a2a2a" stroke-width="0.17">(H2Kd<tspan font-size="6.6" dx="0.5" dy="-3.0">+</tspan><tspan dx="0.3" dy="3.0">)</tspan></text>
<circle cx="428.80" cy="50.20" r="1.45" fill="none" stroke="#2a2a2a" stroke-width="0.75"/>
<text x="433.60" y="52.60" font-size="8.3" text-anchor="start" textLength="78.30" lengthAdjust="spacingAndGlyphs" fill="#2a2a2a" stroke="#2a2a2a" stroke-width="0.08">Isotype-ADC (3 mg/kg)</text>
<text x="434.40" y="61.40" font-size="8.3" text-anchor="start" textLength="45.00" lengthAdjust="spacingAndGlyphs" fill="#2a2a2a" stroke="#2a2a2a" stroke-width="0.08">+ Anti-CD40L</text>
<path d="M428.80 69.08L430.30 71.78L427.30 71.78Z" fill="none" stroke="#2a2a2a" stroke-width="0.75"/>
<text x="433.60" y="72.90" font-size="8.3" text-anchor="start" textLength="73.00" lengthAdjust="spacingAndGlyphs" fill="#2a2a2a" stroke="#2a2a2a" stroke-width="0.08">CD45-ADC (3 mg/kg)</text>
<text x="434.40" y="81.20" font-size="8.3" text-anchor="start" textLength="45.00" lengthAdjust="spacingAndGlyphs" fill="#2a2a2a" stroke="#2a2a2a" stroke-width="0.08">+ Anti-CD40L</text>
<circle cx="428.80" cy="162.70" r="1.45" fill="none" stroke="#2a2a2a" stroke-width="0.75"/>
<text x="433.60" y="165.10" font-size="8.3" text-anchor="start" textLength="78.30" lengthAdjust="spacingAndGlyphs" fill="#2a2a2a" stroke="#2a2a2a" stroke-width="0.08">Isotype-ADC (3 mg/kg)</text>
<text x="434.40" y="173.90" font-size="8.3" text-anchor="start" textLength="45.00" lengthAdjust="spacingAndGlyphs" fill="#2a2a2a" stroke="#2a2a2a" stroke-width="0.08">+ Anti-CD40L</text>
<path d="M428.80 181.58L430.30 184.28L427.30 184.28Z" fill="none" stroke="#2a2a2a" stroke-width="0.75"/>
<text x="433.60" y="185.40" font-size="8.3" text-anchor="start" textLength="73.00" lengthAdjust="spacingAndGlyphs" fill="#2a2a2a" stroke="#2a2a2a" stroke-width="0.08">CD45-ADC (3 mg/kg)</text>
<text x="434.40" y="193.70" font-size="8.3" text-anchor="start" textLength="45.00" lengthAdjust="spacingAndGlyphs" fill="#2a2a2a" stroke="#2a2a2a" stroke-width="0.08">+ Anti-CD40L</text>
<path d="M428.50 274.70L429.86 276.40L428.50 278.10L427.14 276.40Z" fill="none" stroke="#2a2a2a" stroke-width="0.75"/>
<text x="433.80" y="278.80" font-size="8.3" text-anchor="start" textLength="43.30" lengthAdjust="spacingAndGlyphs" fill="#2a2a2a" stroke="#2a2a2a" stroke-width="0.08">Isotype-ADC</text>
<text x="433.80" y="288.50" font-size="8.3" text-anchor="start" textLength="39.10" lengthAdjust="spacingAndGlyphs" fill="#2a2a2a" stroke="#2a2a2a" stroke-width="0.08">(1.5 mg/kg)</text>
<circle cx="428.50" cy="296.50" r="1.45" fill="none" stroke="#2a2a2a" stroke-width="0.75"/>
<text x="433.80" y="298.90" font-size="8.3" text-anchor="start" textLength="79.30" lengthAdjust="spacingAndGlyphs" fill="#2a2a2a" stroke="#2a2a2a" stroke-width="0.08">CD45-ADC (1.5 mg/kg)</text>
<text x="434.60" y="307.50" font-size="8.3" text-anchor="start" textLength="45.00" lengthAdjust="spacingAndGlyphs" fill="#2a2a2a" stroke="#2a2a2a" stroke-width="0.08">+ Anti-CD40L</text>
<path d="M428.50 315.18L430.00 317.88L427.00 317.88Z" fill="none" stroke="#2a2a2a" stroke-width="0.75"/>
<text x="433.80" y="319.00" font-size="8.3" text-anchor="start" textLength="73.00" lengthAdjust="spacingAndGlyphs" fill="#2a2a2a" stroke="#2a2a2a" stroke-width="0.08">CD45-ADC (3 mg/kg)</text>
<text x="434.60" y="327.60" font-size="8.3" text-anchor="start" textLength="45.00" lengthAdjust="spacingAndGlyphs" fill="#2a2a2a" stroke="#2a2a2a" stroke-width="0.08">+ Anti-CD40L</text>
<path d="M428.50 387.00L429.86 388.70L428.50 390.40L427.14 388.70Z" fill="none" stroke="#2a2a2a" stroke-width="0.75"/>
<text x="433.80" y="391.10" font-size="8.3" text-anchor="start" textLength="43.30" lengthAdjust="spacingAndGlyphs" fill="#2a2a2a" stroke="#2a2a2a" stroke-width="0.08">Isotype-ADC</text>
<text x="433.80" y="400.70" font-size="8.3" text-anchor="start" textLength="39.10" lengthAdjust="spacingAndGlyphs" fill="#2a2a2a" stroke="#2a2a2a" stroke-width="0.08">(1.5 mg/kg)</text>
<circle cx="428.50" cy="409.00" r="1.45" fill="none" stroke="#2a2a2a" stroke-width="0.75"/>
<text x="433.80" y="411.40" font-size="8.3" text-anchor="start" textLength="79.30" lengthAdjust="spacingAndGlyphs" fill="#2a2a2a" stroke="#2a2a2a" stroke-width="0.08">CD45-ADC (1.5 mg/kg)</text>
<text x="434.60" y="420.00" font-size="8.3" text-anchor="start" textLength="45.00" lengthAdjust="spacingAndGlyphs" fill="#2a2a2a" stroke="#2a2a2a" stroke-width="0.08">+ Anti-CD40L</text>
<path d="M428.50 427.68L430.00 430.38L427.00 430.38Z" fill="none" stroke="#2a2a2a" stroke-width="0.75"/>
<text x="433.80" y="431.50" font-size="8.3" text-anchor="start" textLength="73.00" lengthAdjust="spacingAndGlyphs" fill="#2a2a2a" stroke="#2a2a2a" stroke-width="0.08">CD45-ADC (3 mg/kg)</text>
<text x="434.60" y="440.10" font-size="8.3" text-anchor="start" textLength="45.00" lengthAdjust="spacingAndGlyphs" fill="#2a2a2a" stroke="#2a2a2a" stroke-width="0.08">+ Anti-CD40L</text>
<path d="M425.40 512.40L426.76 514.10L425.40 515.80L424.04 514.10Z" fill="none" stroke="#2a2a2a" stroke-width="0.75"/>
<text x="430.80" y="516.50" font-size="8.3" text-anchor="start" textLength="43.30" lengthAdjust="spacingAndGlyphs" fill="#2a2a2a" stroke="#2a2a2a" stroke-width="0.08">Isotype-ADC</text>
<text x="430.80" y="526.30" font-size="8.3" text-anchor="start" textLength="39.10" lengthAdjust="spacingAndGlyphs" fill="#2a2a2a" stroke="#2a2a2a" stroke-width="0.08">(1.5 mg/kg)</text>
<circle cx="425.40" cy="534.30" r="1.45" fill="none" stroke="#2a2a2a" stroke-width="0.75"/>
<text x="430.80" y="536.70" font-size="8.3" text-anchor="start" textLength="79.30" lengthAdjust="spacingAndGlyphs" fill="#2a2a2a" stroke="#2a2a2a" stroke-width="0.08">CD45-ADC (1.5 mg/kg)</text>
<text x="431.60" y="546.00" font-size="8.3" text-anchor="start" textLength="45.00" lengthAdjust="spacingAndGlyphs" fill="#2a2a2a" stroke="#2a2a2a" stroke-width="0.08">+ Anti-CD40L</text>
<path d="M425.40 553.08L426.90 555.78L423.90 555.78Z" fill="none" stroke="#2a2a2a" stroke-width="0.75"/>
<text x="430.80" y="556.90" font-size="8.3" text-anchor="start" textLength="73.00" lengthAdjust="spacingAndGlyphs" fill="#2a2a2a" stroke="#2a2a2a" stroke-width="0.08">CD45-ADC (3 mg/kg)</text>
<text x="431.60" y="565.80" font-size="8.3" text-anchor="start" textLength="45.00" lengthAdjust="spacingAndGlyphs" fill="#2a2a2a" stroke="#2a2a2a" stroke-width="0.08">+ Anti-CD40L</text>
<line x1="0.50" y1="0.00" x2="0.50" y2="588.00" stroke="#555" stroke-width="1.0"/>
<line x1="0.00" y1="0.50" x2="520.00" y2="0.50" stroke="#666" stroke-width="1.0"/>
<line x1="519.50" y1="0.00" x2="519.50" y2="588.00" stroke="#333" stroke-width="1.0"/>
<line x1="0.00" y1="587.50" x2="520.00" y2="587.50" stroke="#333" stroke-width="1.0"/>
</svg>
</body></html>
